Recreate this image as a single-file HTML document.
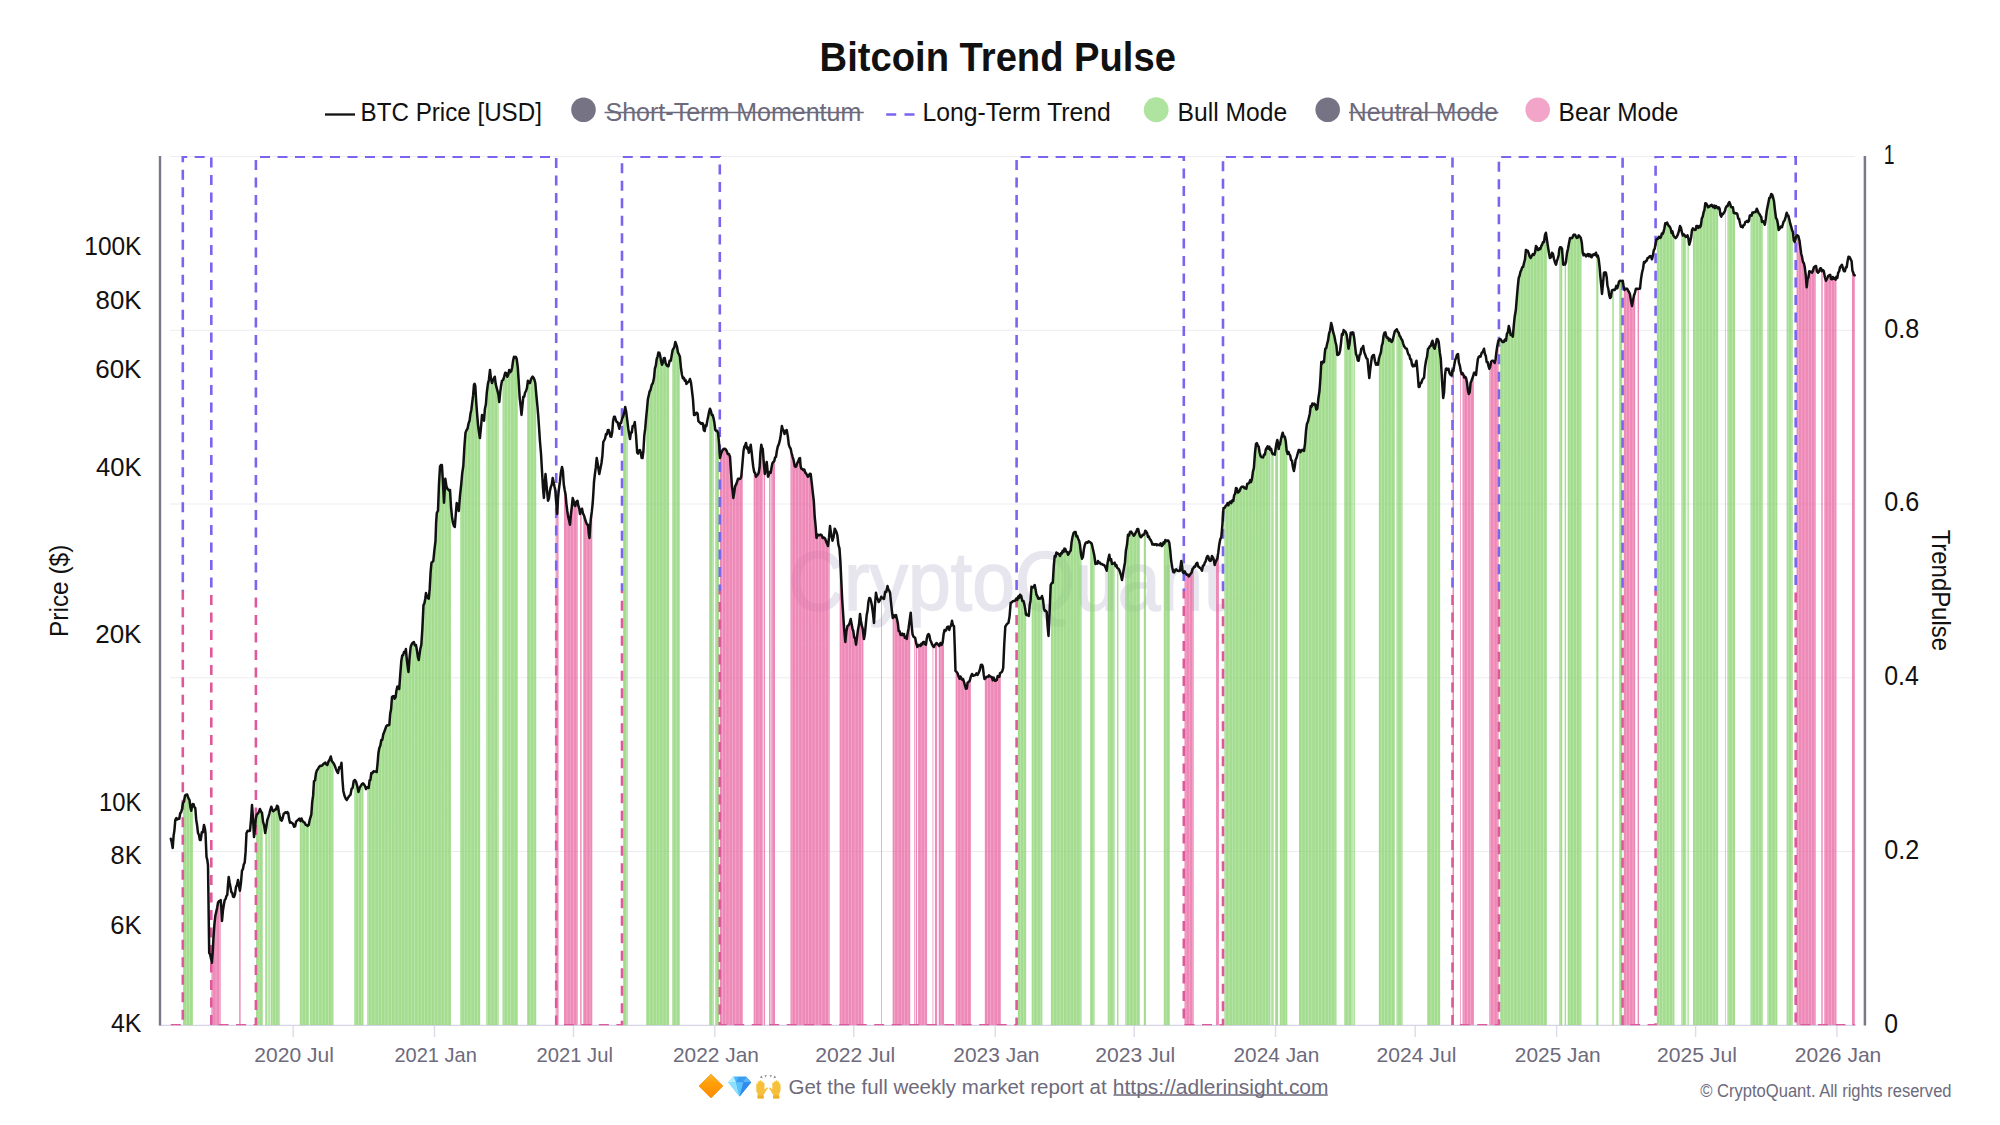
<!DOCTYPE html>
<html lang="en"><head><meta charset="utf-8"><title>Bitcoin Trend Pulse</title>
<style>html,body{margin:0;padding:0;background:#fff}body{width:2000px;height:1125px;overflow:hidden}svg{display:block}</style>
</head><body>
<svg width="2000" height="1125" viewBox="0 0 2000 1125" font-family='"Liberation Sans", sans-serif'><defs><linearGradient id="tg" gradientUnits="userSpaceOnUse" x1="0" y1="156.6" x2="0" y2="1025.2"><stop offset="0.5" stop-color="#7a64f0"/><stop offset="0.5" stop-color="#e0589c"/></linearGradient><clipPath id="plot"><rect x="161" y="156" width="1703" height="869.3"/></clipPath></defs><rect width="2000" height="1125" fill="#fff"/><line x1="170" x2="1855" y1="851.5" y2="851.5" stroke="#ededf1" stroke-width="1"/><line x1="170" x2="1855" y1="677.8" y2="677.8" stroke="#ededf1" stroke-width="1"/><line x1="170" x2="1855" y1="504.0" y2="504.0" stroke="#ededf1" stroke-width="1"/><line x1="170" x2="1855" y1="330.3" y2="330.3" stroke="#ededf1" stroke-width="1"/><line x1="170" x2="1855" y1="156.6" y2="156.6" stroke="#ededf1" stroke-width="1"/><text x="788.39" y="610" font-size="83" font-weight="normal" fill="#e7e6ee" textLength="436.34" lengthAdjust="spacingAndGlyphs" stroke="#e7e6ee" stroke-width="1.6">CryptoQuant</text><line x1="159" x2="1856" y1="1025.3" y2="1025.3" stroke="#d6d4e6" stroke-width="1.3"/><line x1="293.2" x2="293.2" y1="1026" y2="1037" stroke="#dddbe9" stroke-width="1.4"/><text x="254.39" y="1062.3" font-size="20.9" font-weight="normal" fill="#6d6a7b" textLength="79.56" lengthAdjust="spacingAndGlyphs" >2020 Jul</text><line x1="434.5" x2="434.5" y1="1026" y2="1037" stroke="#dddbe9" stroke-width="1.4"/><text x="394.44" y="1062.3" font-size="20.9" font-weight="normal" fill="#6d6a7b" textLength="82.43" lengthAdjust="spacingAndGlyphs" >2021 Jan</text><line x1="573.5" x2="573.5" y1="1026" y2="1037" stroke="#dddbe9" stroke-width="1.4"/><text x="536.53" y="1062.3" font-size="20.9" font-weight="normal" fill="#6d6a7b" textLength="76.36" lengthAdjust="spacingAndGlyphs" >2021 Jul</text><line x1="714.8" x2="714.8" y1="1026" y2="1037" stroke="#dddbe9" stroke-width="1.4"/><text x="673.00" y="1062.3" font-size="20.9" font-weight="normal" fill="#6d6a7b" textLength="85.92" lengthAdjust="spacingAndGlyphs" >2022 Jan</text><line x1="853.8" x2="853.8" y1="1026" y2="1037" stroke="#dddbe9" stroke-width="1.4"/><text x="815.19" y="1062.3" font-size="20.9" font-weight="normal" fill="#6d6a7b" textLength="80.07" lengthAdjust="spacingAndGlyphs" >2022 Jul</text><line x1="995.2" x2="995.2" y1="1026" y2="1037" stroke="#dddbe9" stroke-width="1.4"/><text x="953.30" y="1062.3" font-size="20.9" font-weight="normal" fill="#6d6a7b" textLength="86.23" lengthAdjust="spacingAndGlyphs" >2023 Jan</text><line x1="1134.2" x2="1134.2" y1="1026" y2="1037" stroke="#dddbe9" stroke-width="1.4"/><text x="1095.29" y="1062.3" font-size="20.9" font-weight="normal" fill="#6d6a7b" textLength="79.87" lengthAdjust="spacingAndGlyphs" >2023 Jul</text><line x1="1275.5" x2="1275.5" y1="1026" y2="1037" stroke="#dddbe9" stroke-width="1.4"/><text x="1233.50" y="1062.3" font-size="20.9" font-weight="normal" fill="#6d6a7b" textLength="85.82" lengthAdjust="spacingAndGlyphs" >2024 Jan</text><line x1="1415.2" x2="1415.2" y1="1026" y2="1037" stroke="#dddbe9" stroke-width="1.4"/><text x="1376.49" y="1062.3" font-size="20.9" font-weight="normal" fill="#6d6a7b" textLength="79.87" lengthAdjust="spacingAndGlyphs" >2024 Jul</text><line x1="1556.6" x2="1556.6" y1="1026" y2="1037" stroke="#dddbe9" stroke-width="1.4"/><text x="1514.80" y="1062.3" font-size="20.9" font-weight="normal" fill="#6d6a7b" textLength="85.92" lengthAdjust="spacingAndGlyphs" >2025 Jan</text><line x1="1695.6" x2="1695.6" y1="1026" y2="1037" stroke="#dddbe9" stroke-width="1.4"/><text x="1656.99" y="1062.3" font-size="20.9" font-weight="normal" fill="#6d6a7b" textLength="79.87" lengthAdjust="spacingAndGlyphs" >2025 Jul</text><line x1="1836.9" x2="1836.9" y1="1026" y2="1037" stroke="#dddbe9" stroke-width="1.4"/><text x="1794.79" y="1062.3" font-size="20.9" font-weight="normal" fill="#6d6a7b" textLength="86.54" lengthAdjust="spacingAndGlyphs" >2026 Jan</text><g clip-path="url(#plot)"><path d="M183.08 1025.2V802.2h0.585V1025.2zM183.85 1025.2V800.6h0.585V1025.2zM184.62 1025.2V796.2h0.585V1025.2zM185.39 1025.2V795.0h0.585V1025.2zM186.16 1025.2V794.7h0.585V1025.2zM186.92 1025.2V794.8h0.585V1025.2zM187.69 1025.2V796.9h0.585V1025.2zM188.46 1025.2V798.7h0.585V1025.2zM189.23 1025.2V800.2h0.585V1025.2zM190.00 1025.2V806.2h0.585V1025.2zM190.76 1025.2V809.7h0.585V1025.2zM191.53 1025.2V806.9h0.585V1025.2zM192.30 1025.2V804.2h0.585V1025.2zM256.04 1025.2V816.4h0.585V1025.2zM256.81 1025.2V814.3h0.585V1025.2zM257.58 1025.2V813.4h0.585V1025.2zM258.35 1025.2V812.4h0.585V1025.2zM259.12 1025.2V810.4h0.585V1025.2zM259.88 1025.2V809.6h0.585V1025.2zM260.65 1025.2V811.3h0.585V1025.2zM261.42 1025.2V812.5h0.585V1025.2zM262.19 1025.2V817.1h0.585V1025.2zM265.26 1025.2V831.2h0.585V1025.2zM266.03 1025.2V827.1h0.585V1025.2zM266.80 1025.2V821.5h0.585V1025.2zM268.33 1025.2V816.1h0.585V1025.2zM269.10 1025.2V813.4h0.585V1025.2zM270.64 1025.2V807.8h0.585V1025.2zM271.40 1025.2V807.9h0.585V1025.2zM272.17 1025.2V810.0h0.585V1025.2zM272.94 1025.2V811.2h0.585V1025.2zM273.71 1025.2V810.7h0.585V1025.2zM274.48 1025.2V809.8h0.585V1025.2zM275.24 1025.2V809.5h0.585V1025.2zM276.01 1025.2V808.3h0.585V1025.2zM276.78 1025.2V805.9h0.585V1025.2zM277.55 1025.2V806.6h0.585V1025.2zM278.32 1025.2V810.5h0.585V1025.2zM279.08 1025.2V814.5h0.585V1025.2zM299.82 1025.2V820.5h0.585V1025.2zM300.59 1025.2V819.9h0.585V1025.2zM301.36 1025.2V818.9h0.585V1025.2zM302.12 1025.2V820.6h0.585V1025.2zM302.89 1025.2V821.6h0.585V1025.2zM303.66 1025.2V822.3h0.585V1025.2zM304.43 1025.2V822.7h0.585V1025.2zM305.20 1025.2V824.4h0.585V1025.2zM305.96 1025.2V825.0h0.585V1025.2zM306.73 1025.2V825.4h0.585V1025.2zM307.50 1025.2V825.8h0.585V1025.2zM308.27 1025.2V825.1h0.585V1025.2zM309.80 1025.2V818.7h0.585V1025.2zM310.57 1025.2V816.2h0.585V1025.2zM311.34 1025.2V810.1h0.585V1025.2zM312.11 1025.2V800.8h0.585V1025.2zM312.88 1025.2V794.6h0.585V1025.2zM313.64 1025.2V782.0h0.585V1025.2zM314.41 1025.2V780.7h0.585V1025.2zM315.18 1025.2V777.0h0.585V1025.2zM315.95 1025.2V772.4h0.585V1025.2zM316.72 1025.2V770.2h0.585V1025.2zM317.48 1025.2V769.3h0.585V1025.2zM318.25 1025.2V767.9h0.585V1025.2zM319.02 1025.2V766.6h0.585V1025.2zM319.79 1025.2V765.9h0.585V1025.2zM320.56 1025.2V765.9h0.585V1025.2zM321.32 1025.2V765.7h0.585V1025.2zM322.09 1025.2V765.2h0.585V1025.2zM322.86 1025.2V764.2h0.585V1025.2zM323.63 1025.2V763.6h0.585V1025.2zM324.40 1025.2V763.1h0.585V1025.2zM325.16 1025.2V762.9h0.585V1025.2zM325.93 1025.2V764.3h0.585V1025.2zM326.70 1025.2V764.8h0.585V1025.2zM327.47 1025.2V763.6h0.585V1025.2zM328.24 1025.2V761.4h0.585V1025.2zM329.00 1025.2V760.2h0.585V1025.2zM329.77 1025.2V758.5h0.585V1025.2zM330.54 1025.2V756.6h0.585V1025.2zM331.31 1025.2V760.0h0.585V1025.2zM332.08 1025.2V761.8h0.585V1025.2zM332.84 1025.2V762.7h0.585V1025.2zM354.35 1025.2V780.2h0.585V1025.2zM355.12 1025.2V780.8h0.585V1025.2zM355.88 1025.2V782.2h0.585V1025.2zM356.65 1025.2V785.1h0.585V1025.2zM357.42 1025.2V788.4h0.585V1025.2zM358.19 1025.2V791.9h0.585V1025.2zM358.96 1025.2V789.2h0.585V1025.2zM359.72 1025.2V787.1h0.585V1025.2zM360.49 1025.2V786.0h0.585V1025.2zM361.26 1025.2V784.7h0.585V1025.2zM362.03 1025.2V783.8h0.585V1025.2zM362.80 1025.2V783.4h0.585V1025.2zM367.40 1025.2V787.7h0.585V1025.2zM368.17 1025.2V788.0h0.585V1025.2zM368.94 1025.2V783.2h0.585V1025.2zM369.71 1025.2V780.2h0.585V1025.2zM370.48 1025.2V777.4h0.585V1025.2zM371.24 1025.2V773.1h0.585V1025.2zM372.01 1025.2V773.2h0.585V1025.2zM372.78 1025.2V772.0h0.585V1025.2zM373.55 1025.2V771.3h0.585V1025.2zM374.32 1025.2V771.5h0.585V1025.2zM375.08 1025.2V771.6h0.585V1025.2zM375.85 1025.2V771.8h0.585V1025.2zM376.62 1025.2V769.8h0.585V1025.2zM377.39 1025.2V761.7h0.585V1025.2zM378.16 1025.2V753.1h0.585V1025.2zM378.92 1025.2V748.5h0.585V1025.2zM379.69 1025.2V746.4h0.585V1025.2zM380.46 1025.2V743.1h0.585V1025.2zM381.23 1025.2V740.0h0.585V1025.2zM382.00 1025.2V739.9h0.585V1025.2zM382.76 1025.2V735.7h0.585V1025.2zM383.53 1025.2V732.9h0.585V1025.2zM384.30 1025.2V730.9h0.585V1025.2zM385.07 1025.2V728.8h0.585V1025.2zM385.84 1025.2V726.7h0.585V1025.2zM386.60 1025.2V725.7h0.585V1025.2zM387.37 1025.2V725.3h0.585V1025.2zM388.14 1025.2V725.3h0.585V1025.2zM388.91 1025.2V725.0h0.585V1025.2zM389.68 1025.2V716.7h0.585V1025.2zM390.44 1025.2V710.9h0.585V1025.2zM391.21 1025.2V703.6h0.585V1025.2zM391.98 1025.2V696.8h0.585V1025.2zM392.75 1025.2V696.3h0.585V1025.2zM393.52 1025.2V696.3h0.585V1025.2zM394.28 1025.2V698.4h0.585V1025.2zM395.05 1025.2V697.6h0.585V1025.2zM395.82 1025.2V693.2h0.585V1025.2zM396.59 1025.2V688.7h0.585V1025.2zM397.36 1025.2V686.6h0.585V1025.2zM398.12 1025.2V686.9h0.585V1025.2zM398.89 1025.2V689.0h0.585V1025.2zM399.66 1025.2V679.2h0.585V1025.2zM400.43 1025.2V668.9h0.585V1025.2zM401.20 1025.2V659.9h0.585V1025.2zM401.96 1025.2V655.6h0.585V1025.2zM402.73 1025.2V655.2h0.585V1025.2zM403.50 1025.2V652.7h0.585V1025.2zM404.27 1025.2V652.3h0.585V1025.2zM405.04 1025.2V651.1h0.585V1025.2zM405.80 1025.2V651.3h0.585V1025.2zM406.57 1025.2V660.0h0.585V1025.2zM407.34 1025.2V665.8h0.585V1025.2zM408.11 1025.2V671.3h0.585V1025.2zM408.88 1025.2V663.2h0.585V1025.2zM409.64 1025.2V654.2h0.585V1025.2zM410.41 1025.2V646.7h0.585V1025.2zM411.18 1025.2V644.8h0.585V1025.2zM411.95 1025.2V643.5h0.585V1025.2zM412.72 1025.2V642.6h0.585V1025.2zM413.48 1025.2V642.2h0.585V1025.2zM414.25 1025.2V644.2h0.585V1025.2zM415.02 1025.2V645.2h0.585V1025.2zM415.79 1025.2V645.5h0.585V1025.2zM416.56 1025.2V649.9h0.585V1025.2zM417.32 1025.2V655.3h0.585V1025.2zM418.09 1025.2V658.8h0.585V1025.2zM418.86 1025.2V656.9h0.585V1025.2zM419.63 1025.2V651.7h0.585V1025.2zM420.40 1025.2V647.4h0.585V1025.2zM421.16 1025.2V642.6h0.585V1025.2zM421.93 1025.2V630.8h0.585V1025.2zM422.70 1025.2V615.7h0.585V1025.2zM423.47 1025.2V604.6h0.585V1025.2zM424.24 1025.2V602.6h0.585V1025.2zM425.00 1025.2V598.0h0.585V1025.2zM425.77 1025.2V593.2h0.585V1025.2zM426.54 1025.2V595.9h0.585V1025.2zM427.31 1025.2V597.7h0.585V1025.2zM428.08 1025.2V598.5h0.585V1025.2zM428.84 1025.2V595.1h0.585V1025.2zM429.61 1025.2V585.1h0.585V1025.2zM430.38 1025.2V571.4h0.585V1025.2zM431.15 1025.2V563.3h0.585V1025.2zM431.92 1025.2V562.1h0.585V1025.2zM432.68 1025.2V561.3h0.585V1025.2zM433.45 1025.2V556.6h0.585V1025.2zM434.22 1025.2V549.1h0.585V1025.2zM434.99 1025.2V542.8h0.585V1025.2zM435.76 1025.2V526.0h0.585V1025.2zM436.52 1025.2V513.0h0.585V1025.2zM437.29 1025.2V511.5h0.585V1025.2zM438.06 1025.2V501.2h0.585V1025.2zM438.83 1025.2V481.6h0.585V1025.2zM439.60 1025.2V468.6h0.585V1025.2zM440.36 1025.2V465.5h0.585V1025.2zM441.13 1025.2V465.0h0.585V1025.2zM441.90 1025.2V469.6h0.585V1025.2zM442.67 1025.2V481.7h0.585V1025.2zM443.44 1025.2V497.2h0.585V1025.2zM444.20 1025.2V494.6h0.585V1025.2zM444.97 1025.2V479.4h0.585V1025.2zM445.74 1025.2V483.7h0.585V1025.2zM446.51 1025.2V487.2h0.585V1025.2zM447.28 1025.2V489.0h0.585V1025.2zM448.04 1025.2V489.6h0.585V1025.2zM448.81 1025.2V490.5h0.585V1025.2zM449.58 1025.2V490.1h0.585V1025.2zM450.35 1025.2V500.7h0.585V1025.2zM460.33 1025.2V490.0h0.585V1025.2zM461.10 1025.2V482.6h0.585V1025.2zM461.87 1025.2V474.3h0.585V1025.2zM462.64 1025.2V468.6h0.585V1025.2zM463.40 1025.2V459.1h0.585V1025.2zM464.17 1025.2V445.9h0.585V1025.2zM464.94 1025.2V436.1h0.585V1025.2zM465.71 1025.2V431.5h0.585V1025.2zM466.48 1025.2V429.8h0.585V1025.2zM467.24 1025.2V428.5h0.585V1025.2zM468.01 1025.2V425.0h0.585V1025.2zM468.78 1025.2V422.0h0.585V1025.2zM469.55 1025.2V418.6h0.585V1025.2zM470.32 1025.2V413.4h0.585V1025.2zM471.08 1025.2V409.4h0.585V1025.2zM471.85 1025.2V403.2h0.585V1025.2zM472.62 1025.2V397.0h0.585V1025.2zM473.39 1025.2V388.5h0.585V1025.2zM474.16 1025.2V384.1h0.585V1025.2zM474.92 1025.2V385.7h0.585V1025.2zM475.69 1025.2V397.4h0.585V1025.2zM476.46 1025.2V408.8h0.585V1025.2zM477.23 1025.2V418.8h0.585V1025.2zM478.00 1025.2V427.1h0.585V1025.2zM478.76 1025.2V432.7h0.585V1025.2zM479.53 1025.2V437.5h0.585V1025.2zM486.44 1025.2V393.5h0.585V1025.2zM487.21 1025.2V386.9h0.585V1025.2zM487.98 1025.2V382.3h0.585V1025.2zM488.75 1025.2V378.8h0.585V1025.2zM489.52 1025.2V371.8h0.585V1025.2zM490.28 1025.2V375.3h0.585V1025.2zM491.05 1025.2V380.5h0.585V1025.2zM491.82 1025.2V382.7h0.585V1025.2zM492.59 1025.2V380.6h0.585V1025.2zM493.36 1025.2V378.8h0.585V1025.2zM494.12 1025.2V377.4h0.585V1025.2zM494.89 1025.2V379.9h0.585V1025.2zM495.66 1025.2V385.1h0.585V1025.2zM496.43 1025.2V388.0h0.585V1025.2zM497.20 1025.2V391.0h0.585V1025.2zM497.96 1025.2V394.1h0.585V1025.2zM502.57 1025.2V380.1h0.585V1025.2zM503.34 1025.2V378.3h0.585V1025.2zM504.11 1025.2V375.8h0.585V1025.2zM504.88 1025.2V372.8h0.585V1025.2zM505.64 1025.2V373.1h0.585V1025.2zM506.41 1025.2V374.7h0.585V1025.2zM507.18 1025.2V376.4h0.585V1025.2zM507.95 1025.2V374.9h0.585V1025.2zM508.72 1025.2V371.0h0.585V1025.2zM509.48 1025.2V371.3h0.585V1025.2zM510.25 1025.2V371.9h0.585V1025.2zM511.02 1025.2V370.9h0.585V1025.2zM511.79 1025.2V367.7h0.585V1025.2zM512.56 1025.2V362.4h0.585V1025.2zM513.32 1025.2V358.4h0.585V1025.2zM514.09 1025.2V357.1h0.585V1025.2zM514.86 1025.2V357.4h0.585V1025.2zM515.63 1025.2V357.1h0.585V1025.2zM516.40 1025.2V359.0h0.585V1025.2zM517.16 1025.2V365.0h0.585V1025.2zM527.15 1025.2V384.1h0.585V1025.2zM527.92 1025.2V381.4h0.585V1025.2zM528.68 1025.2V383.1h0.585V1025.2zM529.45 1025.2V383.0h0.585V1025.2zM530.22 1025.2V381.0h0.585V1025.2zM530.99 1025.2V378.8h0.585V1025.2zM531.76 1025.2V377.4h0.585V1025.2zM532.52 1025.2V376.9h0.585V1025.2zM533.29 1025.2V377.9h0.585V1025.2zM534.06 1025.2V379.5h0.585V1025.2zM534.83 1025.2V382.3h0.585V1025.2zM535.60 1025.2V389.8h0.585V1025.2zM555.56 1025.2V497.1h0.585V1025.2zM623.15 1025.2V415.4h0.585V1025.2zM623.92 1025.2V412.8h0.585V1025.2zM624.68 1025.2V408.3h0.585V1025.2zM625.45 1025.2V409.5h0.585V1025.2zM626.22 1025.2V414.1h0.585V1025.2zM626.99 1025.2V420.5h0.585V1025.2zM646.19 1025.2V414.3h0.585V1025.2zM646.96 1025.2V406.3h0.585V1025.2zM647.72 1025.2V398.5h0.585V1025.2zM648.49 1025.2V395.1h0.585V1025.2zM649.26 1025.2V391.8h0.585V1025.2zM650.03 1025.2V390.3h0.585V1025.2zM650.80 1025.2V387.5h0.585V1025.2zM651.56 1025.2V384.7h0.585V1025.2zM652.33 1025.2V383.5h0.585V1025.2zM653.10 1025.2V380.7h0.585V1025.2zM653.87 1025.2V376.3h0.585V1025.2zM654.64 1025.2V368.4h0.585V1025.2zM655.40 1025.2V366.0h0.585V1025.2zM656.17 1025.2V360.8h0.585V1025.2zM656.94 1025.2V357.5h0.585V1025.2zM657.71 1025.2V354.6h0.585V1025.2zM658.48 1025.2V352.6h0.585V1025.2zM659.24 1025.2V353.5h0.585V1025.2zM660.01 1025.2V356.4h0.585V1025.2zM660.78 1025.2V361.2h0.585V1025.2zM661.55 1025.2V364.1h0.585V1025.2zM662.32 1025.2V363.2h0.585V1025.2zM663.08 1025.2V360.2h0.585V1025.2zM663.85 1025.2V358.1h0.585V1025.2zM664.62 1025.2V359.2h0.585V1025.2zM665.39 1025.2V363.3h0.585V1025.2zM666.16 1025.2V364.8h0.585V1025.2zM666.92 1025.2V365.9h0.585V1025.2zM667.69 1025.2V366.2h0.585V1025.2zM668.46 1025.2V365.0h0.585V1025.2zM672.30 1025.2V350.2h0.585V1025.2zM673.07 1025.2V348.9h0.585V1025.2zM673.84 1025.2V347.3h0.585V1025.2zM674.60 1025.2V344.1h0.585V1025.2zM675.37 1025.2V342.9h0.585V1025.2zM676.14 1025.2V345.1h0.585V1025.2zM676.91 1025.2V347.8h0.585V1025.2zM677.68 1025.2V352.5h0.585V1025.2zM678.44 1025.2V354.0h0.585V1025.2zM679.21 1025.2V355.7h0.585V1025.2zM709.16 1025.2V410.6h0.585V1025.2zM709.93 1025.2V409.3h0.585V1025.2zM710.70 1025.2V411.4h0.585V1025.2zM711.47 1025.2V414.7h0.585V1025.2zM712.24 1025.2V415.0h0.585V1025.2zM713.00 1025.2V417.5h0.585V1025.2zM715.31 1025.2V430.3h0.585V1025.2zM716.08 1025.2V431.0h0.585V1025.2zM716.84 1025.2V430.8h0.585V1025.2zM717.61 1025.2V432.5h0.585V1025.2zM718.38 1025.2V439.2h0.585V1025.2zM1017.90 1025.2V596.5h0.585V1025.2zM1018.67 1025.2V597.7h0.585V1025.2zM1019.44 1025.2V595.7h0.585V1025.2zM1020.20 1025.2V595.2h0.585V1025.2zM1020.97 1025.2V596.2h0.585V1025.2zM1021.74 1025.2V599.6h0.585V1025.2zM1022.51 1025.2V600.9h0.585V1025.2zM1023.28 1025.2V601.3h0.585V1025.2zM1024.04 1025.2V604.1h0.585V1025.2zM1024.81 1025.2V608.4h0.585V1025.2zM1025.58 1025.2V613.8h0.585V1025.2zM1031.72 1025.2V587.1h0.585V1025.2zM1032.49 1025.2V587.4h0.585V1025.2zM1033.26 1025.2V586.8h0.585V1025.2zM1034.03 1025.2V585.6h0.585V1025.2zM1034.80 1025.2V587.0h0.585V1025.2zM1035.56 1025.2V591.1h0.585V1025.2zM1036.33 1025.2V594.9h0.585V1025.2zM1037.10 1025.2V596.3h0.585V1025.2zM1037.87 1025.2V598.6h0.585V1025.2zM1038.64 1025.2V598.1h0.585V1025.2zM1039.40 1025.2V598.5h0.585V1025.2zM1040.17 1025.2V598.5h0.585V1025.2zM1040.94 1025.2V597.7h0.585V1025.2zM1041.71 1025.2V596.0h0.585V1025.2zM1050.92 1025.2V584.0h0.585V1025.2zM1051.69 1025.2V582.9h0.585V1025.2zM1052.46 1025.2V582.7h0.585V1025.2zM1053.23 1025.2V569.9h0.585V1025.2zM1054.00 1025.2V560.2h0.585V1025.2zM1054.76 1025.2V556.3h0.585V1025.2zM1055.53 1025.2V555.5h0.585V1025.2zM1056.30 1025.2V552.6h0.585V1025.2zM1057.07 1025.2V553.1h0.585V1025.2zM1057.84 1025.2V553.8h0.585V1025.2zM1058.60 1025.2V554.3h0.585V1025.2zM1059.37 1025.2V555.4h0.585V1025.2zM1060.14 1025.2V554.7h0.585V1025.2zM1060.91 1025.2V553.4h0.585V1025.2zM1061.68 1025.2V553.0h0.585V1025.2zM1062.44 1025.2V550.8h0.585V1025.2zM1063.21 1025.2V551.9h0.585V1025.2zM1063.98 1025.2V549.3h0.585V1025.2zM1064.75 1025.2V548.9h0.585V1025.2zM1065.52 1025.2V550.5h0.585V1025.2zM1066.28 1025.2V551.7h0.585V1025.2zM1067.05 1025.2V552.7h0.585V1025.2zM1067.82 1025.2V554.6h0.585V1025.2zM1068.59 1025.2V553.6h0.585V1025.2zM1069.36 1025.2V551.9h0.585V1025.2zM1070.12 1025.2V551.0h0.585V1025.2zM1070.89 1025.2V546.0h0.585V1025.2zM1071.66 1025.2V540.0h0.585V1025.2zM1072.43 1025.2V536.2h0.585V1025.2zM1073.20 1025.2V533.4h0.585V1025.2zM1073.96 1025.2V532.4h0.585V1025.2zM1074.73 1025.2V532.0h0.585V1025.2zM1075.50 1025.2V533.2h0.585V1025.2zM1076.27 1025.2V536.3h0.585V1025.2zM1077.04 1025.2V536.1h0.585V1025.2zM1077.80 1025.2V538.6h0.585V1025.2zM1078.57 1025.2V540.2h0.585V1025.2zM1079.34 1025.2V543.2h0.585V1025.2zM1080.11 1025.2V548.7h0.585V1025.2zM1080.88 1025.2V555.0h0.585V1025.2zM1090.09 1025.2V542.5h0.585V1025.2zM1090.86 1025.2V543.1h0.585V1025.2zM1091.63 1025.2V544.8h0.585V1025.2zM1092.40 1025.2V547.9h0.585V1025.2zM1093.16 1025.2V551.4h0.585V1025.2zM1093.93 1025.2V555.1h0.585V1025.2zM1107.76 1025.2V560.4h0.585V1025.2zM1108.52 1025.2V556.9h0.585V1025.2zM1109.29 1025.2V556.4h0.585V1025.2zM1110.06 1025.2V560.0h0.585V1025.2zM1110.83 1025.2V559.1h0.585V1025.2zM1111.60 1025.2V563.4h0.585V1025.2zM1112.36 1025.2V563.7h0.585V1025.2zM1113.13 1025.2V563.6h0.585V1025.2zM1113.90 1025.2V563.2h0.585V1025.2zM1116.97 1025.2V567.9h0.585V1025.2zM1117.74 1025.2V568.3h0.585V1025.2zM1125.42 1025.2V553.0h0.585V1025.2zM1126.19 1025.2V547.5h0.585V1025.2zM1126.96 1025.2V542.0h0.585V1025.2zM1127.72 1025.2V534.7h0.585V1025.2zM1128.49 1025.2V535.5h0.585V1025.2zM1129.26 1025.2V533.7h0.585V1025.2zM1130.03 1025.2V531.9h0.585V1025.2zM1130.80 1025.2V531.7h0.585V1025.2zM1131.56 1025.2V532.8h0.585V1025.2zM1132.33 1025.2V534.0h0.585V1025.2zM1133.10 1025.2V535.1h0.585V1025.2zM1133.87 1025.2V535.3h0.585V1025.2zM1134.64 1025.2V534.2h0.585V1025.2zM1135.40 1025.2V532.5h0.585V1025.2zM1136.17 1025.2V531.2h0.585V1025.2zM1136.94 1025.2V529.2h0.585V1025.2zM1137.71 1025.2V529.0h0.585V1025.2zM1138.48 1025.2V531.6h0.585V1025.2zM1139.24 1025.2V534.5h0.585V1025.2zM1143.85 1025.2V534.3h0.585V1025.2zM1144.62 1025.2V532.2h0.585V1025.2zM1145.39 1025.2V531.1h0.585V1025.2zM1163.82 1025.2V543.0h0.585V1025.2zM1164.59 1025.2V541.7h0.585V1025.2zM1165.36 1025.2V540.4h0.585V1025.2zM1166.12 1025.2V541.2h0.585V1025.2zM1166.89 1025.2V540.6h0.585V1025.2zM1167.66 1025.2V540.5h0.585V1025.2zM1168.43 1025.2V541.4h0.585V1025.2zM1169.20 1025.2V544.2h0.585V1025.2zM1224.49 1025.2V507.6h0.585V1025.2zM1225.26 1025.2V506.2h0.585V1025.2zM1226.03 1025.2V505.4h0.585V1025.2zM1226.80 1025.2V504.1h0.585V1025.2zM1227.56 1025.2V503.8h0.585V1025.2zM1228.33 1025.2V504.8h0.585V1025.2zM1229.10 1025.2V502.6h0.585V1025.2zM1229.87 1025.2V501.7h0.585V1025.2zM1230.64 1025.2V502.5h0.585V1025.2zM1231.40 1025.2V502.0h0.585V1025.2zM1232.17 1025.2V500.5h0.585V1025.2zM1232.94 1025.2V501.0h0.585V1025.2zM1233.71 1025.2V496.4h0.585V1025.2zM1234.48 1025.2V494.3h0.585V1025.2zM1235.24 1025.2V491.0h0.585V1025.2zM1236.01 1025.2V488.2h0.585V1025.2zM1236.78 1025.2V489.3h0.585V1025.2zM1237.55 1025.2V492.6h0.585V1025.2zM1238.32 1025.2V492.1h0.585V1025.2zM1239.08 1025.2V491.1h0.585V1025.2zM1239.85 1025.2V489.5h0.585V1025.2zM1240.62 1025.2V487.7h0.585V1025.2zM1241.39 1025.2V486.8h0.585V1025.2zM1242.16 1025.2V486.7h0.585V1025.2zM1242.92 1025.2V486.8h0.585V1025.2zM1243.69 1025.2V487.5h0.585V1025.2zM1244.46 1025.2V488.1h0.585V1025.2zM1245.23 1025.2V488.1h0.585V1025.2zM1246.00 1025.2V488.7h0.585V1025.2zM1246.76 1025.2V485.0h0.585V1025.2zM1247.53 1025.2V483.7h0.585V1025.2zM1248.30 1025.2V483.3h0.585V1025.2zM1249.07 1025.2V482.5h0.585V1025.2zM1249.84 1025.2V480.4h0.585V1025.2zM1250.60 1025.2V481.6h0.585V1025.2zM1251.37 1025.2V479.9h0.585V1025.2zM1252.14 1025.2V475.4h0.585V1025.2zM1252.91 1025.2V470.5h0.585V1025.2zM1253.68 1025.2V467.0h0.585V1025.2zM1254.44 1025.2V455.8h0.585V1025.2zM1255.21 1025.2V448.1h0.585V1025.2zM1255.98 1025.2V443.7h0.585V1025.2zM1256.75 1025.2V443.5h0.585V1025.2zM1257.52 1025.2V445.4h0.585V1025.2zM1258.28 1025.2V446.5h0.585V1025.2zM1259.05 1025.2V450.8h0.585V1025.2zM1259.82 1025.2V454.3h0.585V1025.2zM1260.59 1025.2V456.3h0.585V1025.2zM1261.36 1025.2V457.1h0.585V1025.2zM1262.12 1025.2V457.2h0.585V1025.2zM1262.89 1025.2V457.2h0.585V1025.2zM1263.66 1025.2V454.8h0.585V1025.2zM1264.43 1025.2V454.5h0.585V1025.2zM1265.20 1025.2V451.2h0.585V1025.2zM1265.96 1025.2V448.7h0.585V1025.2zM1266.73 1025.2V447.4h0.585V1025.2zM1267.50 1025.2V447.0h0.585V1025.2zM1268.27 1025.2V448.5h0.585V1025.2zM1269.04 1025.2V446.8h0.585V1025.2zM1269.80 1025.2V449.6h0.585V1025.2zM1271.34 1025.2V451.3h0.585V1025.2zM1272.11 1025.2V453.5h0.585V1025.2zM1272.88 1025.2V454.0h0.585V1025.2zM1275.18 1025.2V449.7h0.585V1025.2zM1275.95 1025.2V445.0h0.585V1025.2zM1276.72 1025.2V441.3h0.585V1025.2zM1277.48 1025.2V441.9h0.585V1025.2zM1279.79 1025.2V444.2h0.585V1025.2zM1280.56 1025.2V439.8h0.585V1025.2zM1281.32 1025.2V436.6h0.585V1025.2zM1282.09 1025.2V433.8h0.585V1025.2zM1282.86 1025.2V434.4h0.585V1025.2zM1283.63 1025.2V436.6h0.585V1025.2zM1284.40 1025.2V436.7h0.585V1025.2zM1285.16 1025.2V440.1h0.585V1025.2zM1285.93 1025.2V446.3h0.585V1025.2zM1286.70 1025.2V452.0h0.585V1025.2zM1298.99 1025.2V449.9h0.585V1025.2zM1299.76 1025.2V451.2h0.585V1025.2zM1300.52 1025.2V451.7h0.585V1025.2zM1301.29 1025.2V450.7h0.585V1025.2zM1302.06 1025.2V450.0h0.585V1025.2zM1302.83 1025.2V450.5h0.585V1025.2zM1303.60 1025.2V450.9h0.585V1025.2zM1304.36 1025.2V446.2h0.585V1025.2zM1305.13 1025.2V438.3h0.585V1025.2zM1305.90 1025.2V429.6h0.585V1025.2zM1306.67 1025.2V423.9h0.585V1025.2zM1307.44 1025.2V422.1h0.585V1025.2zM1308.20 1025.2V419.2h0.585V1025.2zM1308.97 1025.2V415.9h0.585V1025.2zM1309.74 1025.2V411.4h0.585V1025.2zM1310.51 1025.2V406.1h0.585V1025.2zM1311.28 1025.2V406.6h0.585V1025.2zM1312.04 1025.2V403.7h0.585V1025.2zM1312.81 1025.2V404.4h0.585V1025.2zM1313.58 1025.2V404.1h0.585V1025.2zM1314.35 1025.2V404.1h0.585V1025.2zM1315.12 1025.2V405.3h0.585V1025.2zM1315.88 1025.2V408.9h0.585V1025.2zM1316.65 1025.2V409.0h0.585V1025.2zM1317.42 1025.2V404.8h0.585V1025.2zM1318.19 1025.2V397.8h0.585V1025.2zM1318.96 1025.2V392.7h0.585V1025.2zM1319.72 1025.2V383.9h0.585V1025.2zM1320.49 1025.2V371.5h0.585V1025.2zM1321.26 1025.2V362.4h0.585V1025.2zM1322.03 1025.2V363.2h0.585V1025.2zM1322.80 1025.2V361.4h0.585V1025.2zM1323.56 1025.2V361.9h0.585V1025.2zM1324.33 1025.2V354.4h0.585V1025.2zM1325.10 1025.2V348.7h0.585V1025.2zM1325.87 1025.2V348.3h0.585V1025.2zM1326.64 1025.2V344.8h0.585V1025.2zM1327.40 1025.2V341.8h0.585V1025.2zM1328.17 1025.2V337.5h0.585V1025.2zM1328.94 1025.2V332.8h0.585V1025.2zM1329.71 1025.2V330.7h0.585V1025.2zM1330.48 1025.2V326.0h0.585V1025.2zM1331.24 1025.2V324.2h0.585V1025.2zM1332.01 1025.2V327.2h0.585V1025.2zM1332.78 1025.2V331.4h0.585V1025.2zM1333.55 1025.2V334.4h0.585V1025.2zM1334.32 1025.2V337.3h0.585V1025.2zM1335.08 1025.2V341.3h0.585V1025.2zM1335.85 1025.2V344.6h0.585V1025.2zM1344.30 1025.2V331.1h0.585V1025.2zM1345.07 1025.2V331.7h0.585V1025.2zM1345.84 1025.2V333.4h0.585V1025.2zM1346.60 1025.2V336.5h0.585V1025.2zM1347.37 1025.2V342.2h0.585V1025.2zM1348.14 1025.2V348.2h0.585V1025.2zM1348.91 1025.2V345.4h0.585V1025.2zM1349.68 1025.2V339.9h0.585V1025.2zM1350.44 1025.2V332.8h0.585V1025.2zM1351.21 1025.2V334.2h0.585V1025.2zM1351.98 1025.2V332.7h0.585V1025.2zM1353.52 1025.2V335.7h0.585V1025.2zM1354.28 1025.2V341.5h0.585V1025.2zM1378.86 1025.2V357.8h0.585V1025.2zM1379.63 1025.2V355.3h0.585V1025.2zM1380.40 1025.2V353.0h0.585V1025.2zM1381.16 1025.2V348.2h0.585V1025.2zM1381.93 1025.2V344.4h0.585V1025.2zM1382.70 1025.2V340.6h0.585V1025.2zM1383.47 1025.2V335.1h0.585V1025.2zM1384.24 1025.2V332.7h0.585V1025.2zM1385.00 1025.2V332.4h0.585V1025.2zM1385.77 1025.2V335.4h0.585V1025.2zM1386.54 1025.2V337.4h0.585V1025.2zM1387.31 1025.2V337.9h0.585V1025.2zM1388.08 1025.2V338.5h0.585V1025.2zM1388.84 1025.2V340.2h0.585V1025.2zM1389.61 1025.2V339.0h0.585V1025.2zM1390.38 1025.2V340.8h0.585V1025.2zM1391.15 1025.2V341.8h0.585V1025.2zM1391.92 1025.2V341.1h0.585V1025.2zM1392.68 1025.2V338.7h0.585V1025.2zM1393.45 1025.2V335.6h0.585V1025.2zM1394.22 1025.2V332.6h0.585V1025.2zM1396.52 1025.2V329.3h0.585V1025.2zM1397.29 1025.2V331.2h0.585V1025.2zM1398.06 1025.2V332.3h0.585V1025.2zM1398.83 1025.2V334.2h0.585V1025.2zM1399.60 1025.2V336.1h0.585V1025.2zM1400.36 1025.2V337.3h0.585V1025.2zM1401.13 1025.2V339.1h0.585V1025.2zM1401.90 1025.2V340.1h0.585V1025.2zM1427.24 1025.2V352.5h0.585V1025.2zM1428.01 1025.2V348.5h0.585V1025.2zM1428.78 1025.2V347.7h0.585V1025.2zM1429.55 1025.2V346.2h0.585V1025.2zM1430.32 1025.2V346.0h0.585V1025.2zM1431.08 1025.2V343.7h0.585V1025.2zM1431.85 1025.2V341.6h0.585V1025.2zM1432.62 1025.2V343.1h0.585V1025.2zM1433.39 1025.2V347.2h0.585V1025.2zM1434.16 1025.2V348.3h0.585V1025.2zM1434.92 1025.2V346.3h0.585V1025.2zM1435.69 1025.2V342.8h0.585V1025.2zM1436.46 1025.2V339.2h0.585V1025.2zM1437.23 1025.2V339.3h0.585V1025.2zM1438.00 1025.2V340.9h0.585V1025.2zM1438.76 1025.2V345.5h0.585V1025.2zM1439.53 1025.2V352.9h0.585V1025.2zM1500.20 1025.2V339.3h0.585V1025.2zM1500.97 1025.2V340.2h0.585V1025.2zM1501.74 1025.2V341.4h0.585V1025.2zM1502.51 1025.2V342.0h0.585V1025.2zM1503.28 1025.2V342.1h0.585V1025.2zM1504.04 1025.2V340.9h0.585V1025.2zM1504.81 1025.2V339.8h0.585V1025.2zM1505.58 1025.2V340.6h0.585V1025.2zM1506.35 1025.2V336.0h0.585V1025.2zM1507.12 1025.2V332.9h0.585V1025.2zM1507.88 1025.2V330.1h0.585V1025.2zM1508.65 1025.2V326.6h0.585V1025.2zM1509.42 1025.2V329.9h0.585V1025.2zM1510.19 1025.2V333.9h0.585V1025.2zM1510.96 1025.2V335.0h0.585V1025.2zM1511.72 1025.2V335.4h0.585V1025.2zM1512.49 1025.2V336.7h0.585V1025.2zM1513.26 1025.2V327.7h0.585V1025.2zM1514.03 1025.2V320.2h0.585V1025.2zM1514.80 1025.2V314.3h0.585V1025.2zM1515.56 1025.2V309.1h0.585V1025.2zM1516.33 1025.2V300.1h0.585V1025.2zM1517.10 1025.2V291.0h0.585V1025.2zM1517.87 1025.2V283.0h0.585V1025.2zM1518.64 1025.2V277.4h0.585V1025.2zM1519.40 1025.2V275.1h0.585V1025.2zM1520.17 1025.2V271.9h0.585V1025.2zM1520.94 1025.2V270.2h0.585V1025.2zM1521.71 1025.2V267.9h0.585V1025.2zM1522.48 1025.2V267.1h0.585V1025.2zM1523.24 1025.2V265.1h0.585V1025.2zM1524.01 1025.2V261.8h0.585V1025.2zM1524.78 1025.2V258.1h0.585V1025.2zM1525.55 1025.2V250.6h0.585V1025.2zM1526.32 1025.2V250.3h0.585V1025.2zM1527.08 1025.2V250.5h0.585V1025.2zM1527.85 1025.2V251.8h0.585V1025.2zM1528.62 1025.2V254.1h0.585V1025.2zM1529.39 1025.2V256.5h0.585V1025.2zM1530.16 1025.2V257.6h0.585V1025.2zM1530.92 1025.2V256.9h0.585V1025.2zM1531.69 1025.2V255.4h0.585V1025.2zM1532.46 1025.2V254.1h0.585V1025.2zM1533.23 1025.2V254.6h0.585V1025.2zM1534.00 1025.2V254.1h0.585V1025.2zM1534.76 1025.2V251.9h0.585V1025.2zM1535.53 1025.2V247.1h0.585V1025.2zM1536.30 1025.2V246.7h0.585V1025.2zM1537.07 1025.2V248.6h0.585V1025.2zM1537.84 1025.2V250.0h0.585V1025.2zM1538.60 1025.2V249.6h0.585V1025.2zM1539.37 1025.2V248.3h0.585V1025.2zM1540.14 1025.2V249.0h0.585V1025.2zM1540.91 1025.2V246.3h0.585V1025.2zM1541.68 1025.2V244.9h0.585V1025.2zM1542.44 1025.2V243.0h0.585V1025.2zM1543.21 1025.2V241.9h0.585V1025.2zM1543.98 1025.2V240.0h0.585V1025.2zM1544.75 1025.2V234.7h0.585V1025.2zM1545.52 1025.2V232.9h0.585V1025.2zM1546.28 1025.2V237.5h0.585V1025.2zM1559.34 1025.2V248.5h0.585V1025.2zM1560.11 1025.2V247.2h0.585V1025.2zM1560.88 1025.2V247.4h0.585V1025.2zM1561.64 1025.2V248.6h0.585V1025.2zM1564.72 1025.2V264.6h0.585V1025.2zM1565.48 1025.2V262.4h0.585V1025.2zM1567.79 1025.2V248.3h0.585V1025.2zM1568.56 1025.2V244.1h0.585V1025.2zM1569.32 1025.2V240.0h0.585V1025.2zM1570.09 1025.2V238.1h0.585V1025.2zM1570.86 1025.2V238.3h0.585V1025.2zM1571.63 1025.2V238.1h0.585V1025.2zM1572.40 1025.2V236.8h0.585V1025.2zM1573.16 1025.2V235.2h0.585V1025.2zM1573.93 1025.2V234.6h0.585V1025.2zM1574.70 1025.2V234.8h0.585V1025.2zM1575.47 1025.2V236.2h0.585V1025.2zM1576.24 1025.2V237.4h0.585V1025.2zM1577.00 1025.2V237.8h0.585V1025.2zM1577.77 1025.2V236.9h0.585V1025.2zM1578.54 1025.2V235.5h0.585V1025.2zM1579.31 1025.2V236.4h0.585V1025.2zM1580.08 1025.2V237.4h0.585V1025.2zM1580.84 1025.2V239.7h0.585V1025.2zM1596.20 1025.2V254.8h0.585V1025.2zM1596.97 1025.2V256.1h0.585V1025.2zM1597.74 1025.2V256.6h0.585V1025.2zM1612.33 1025.2V290.1h0.585V1025.2zM1613.10 1025.2V289.9h0.585V1025.2zM1619.24 1025.2V281.1h0.585V1025.2zM1620.01 1025.2V280.8h0.585V1025.2zM1620.78 1025.2V281.0h0.585V1025.2zM1621.55 1025.2V280.9h0.585V1025.2zM1656.88 1025.2V239.1h0.585V1025.2zM1657.64 1025.2V238.4h0.585V1025.2zM1658.41 1025.2V236.9h0.585V1025.2zM1659.18 1025.2V237.4h0.585V1025.2zM1659.95 1025.2V237.8h0.585V1025.2zM1660.72 1025.2V236.8h0.585V1025.2zM1661.48 1025.2V233.7h0.585V1025.2zM1662.25 1025.2V233.9h0.585V1025.2zM1663.02 1025.2V232.4h0.585V1025.2zM1663.79 1025.2V229.7h0.585V1025.2zM1664.56 1025.2V225.9h0.585V1025.2zM1665.32 1025.2V223.5h0.585V1025.2zM1666.09 1025.2V223.5h0.585V1025.2zM1666.86 1025.2V222.7h0.585V1025.2zM1667.63 1025.2V224.5h0.585V1025.2zM1668.40 1025.2V225.7h0.585V1025.2zM1669.16 1025.2V226.5h0.585V1025.2zM1669.93 1025.2V227.7h0.585V1025.2zM1670.70 1025.2V230.1h0.585V1025.2zM1671.47 1025.2V232.6h0.585V1025.2zM1672.24 1025.2V231.8h0.585V1025.2zM1673.00 1025.2V235.3h0.585V1025.2zM1673.77 1025.2V236.5h0.585V1025.2zM1681.45 1025.2V231.5h0.585V1025.2zM1682.22 1025.2V234.2h0.585V1025.2zM1682.99 1025.2V235.1h0.585V1025.2zM1683.76 1025.2V234.6h0.585V1025.2zM1684.52 1025.2V235.3h0.585V1025.2zM1685.29 1025.2V236.7h0.585V1025.2zM1686.83 1025.2V235.9h0.585V1025.2zM1688.36 1025.2V240.1h0.585V1025.2zM1692.97 1025.2V228.9h0.585V1025.2zM1693.74 1025.2V229.6h0.585V1025.2zM1694.51 1025.2V230.0h0.585V1025.2zM1695.28 1025.2V229.7h0.585V1025.2zM1696.04 1025.2V226.3h0.585V1025.2zM1696.81 1025.2V226.0h0.585V1025.2zM1697.58 1025.2V227.2h0.585V1025.2zM1698.35 1025.2V227.0h0.585V1025.2zM1699.12 1025.2V226.5h0.585V1025.2zM1699.88 1025.2V226.9h0.585V1025.2zM1700.65 1025.2V225.1h0.585V1025.2zM1701.42 1025.2V219.0h0.585V1025.2zM1702.19 1025.2V217.1h0.585V1025.2zM1702.96 1025.2V213.9h0.585V1025.2zM1703.72 1025.2V211.2h0.585V1025.2zM1704.49 1025.2V207.4h0.585V1025.2zM1705.26 1025.2V203.3h0.585V1025.2zM1706.03 1025.2V203.6h0.585V1025.2zM1706.80 1025.2V204.9h0.585V1025.2zM1707.56 1025.2V206.9h0.585V1025.2zM1708.33 1025.2V207.0h0.585V1025.2zM1709.10 1025.2V206.3h0.585V1025.2zM1709.87 1025.2V205.8h0.585V1025.2zM1710.64 1025.2V205.7h0.585V1025.2zM1711.40 1025.2V204.8h0.585V1025.2zM1712.17 1025.2V205.7h0.585V1025.2zM1712.94 1025.2V207.2h0.585V1025.2zM1713.71 1025.2V206.0h0.585V1025.2zM1714.48 1025.2V207.2h0.585V1025.2zM1715.24 1025.2V207.1h0.585V1025.2zM1716.01 1025.2V206.4h0.585V1025.2zM1716.78 1025.2V207.4h0.585V1025.2zM1717.55 1025.2V208.3h0.585V1025.2zM1725.23 1025.2V208.7h0.585V1025.2zM1727.53 1025.2V205.5h0.585V1025.2zM1728.30 1025.2V203.3h0.585V1025.2zM1729.07 1025.2V202.1h0.585V1025.2zM1729.84 1025.2V204.0h0.585V1025.2zM1730.60 1025.2V206.5h0.585V1025.2zM1731.37 1025.2V207.3h0.585V1025.2zM1732.14 1025.2V207.3h0.585V1025.2zM1732.91 1025.2V209.3h0.585V1025.2zM1733.68 1025.2V213.0h0.585V1025.2zM1734.44 1025.2V212.7h0.585V1025.2zM1750.57 1025.2V215.4h0.585V1025.2zM1751.34 1025.2V215.5h0.585V1025.2zM1752.11 1025.2V212.7h0.585V1025.2zM1752.88 1025.2V212.7h0.585V1025.2zM1753.64 1025.2V212.3h0.585V1025.2zM1754.41 1025.2V212.0h0.585V1025.2zM1755.18 1025.2V212.1h0.585V1025.2zM1755.95 1025.2V210.3h0.585V1025.2zM1756.72 1025.2V209.2h0.585V1025.2zM1757.48 1025.2V211.0h0.585V1025.2zM1758.25 1025.2V212.8h0.585V1025.2zM1759.02 1025.2V213.8h0.585V1025.2zM1759.79 1025.2V215.2h0.585V1025.2zM1760.56 1025.2V216.5h0.585V1025.2zM1761.32 1025.2V219.7h0.585V1025.2zM1762.09 1025.2V221.6h0.585V1025.2zM1767.47 1025.2V205.6h0.585V1025.2zM1768.24 1025.2V202.0h0.585V1025.2zM1769.00 1025.2V198.0h0.585V1025.2zM1769.77 1025.2V197.7h0.585V1025.2zM1770.54 1025.2V195.4h0.585V1025.2zM1771.31 1025.2V194.2h0.585V1025.2zM1772.08 1025.2V195.3h0.585V1025.2zM1772.84 1025.2V197.7h0.585V1025.2zM1773.61 1025.2V200.7h0.585V1025.2zM1774.38 1025.2V207.8h0.585V1025.2zM1775.15 1025.2V213.9h0.585V1025.2zM1775.92 1025.2V218.3h0.585V1025.2zM1776.68 1025.2V219.7h0.585V1025.2zM1786.67 1025.2V213.5h0.585V1025.2zM1787.44 1025.2V215.4h0.585V1025.2zM1788.20 1025.2V216.0h0.585V1025.2zM1788.97 1025.2V219.2h0.585V1025.2zM1789.74 1025.2V222.7h0.585V1025.2zM1790.51 1025.2V225.4h0.585V1025.2zM1791.28 1025.2V228.2h0.585V1025.2zM1792.04 1025.2V230.7h0.585V1025.2z" fill="#84d069" fill-opacity="0.92"/><path d="M211.50 1025.2V962.2h0.585V1025.2zM212.27 1025.2V954.1h0.585V1025.2zM213.04 1025.2V940.3h0.585V1025.2zM213.80 1025.2V928.6h0.585V1025.2zM214.57 1025.2V920.0h0.585V1025.2zM215.34 1025.2V914.5h0.585V1025.2zM216.11 1025.2V911.1h0.585V1025.2zM216.88 1025.2V907.5h0.585V1025.2zM217.64 1025.2V903.1h0.585V1025.2zM218.41 1025.2V901.6h0.585V1025.2zM219.18 1025.2V901.2h0.585V1025.2zM219.95 1025.2V900.6h0.585V1025.2zM239.15 1025.2V888.2h0.585V1025.2zM239.92 1025.2V888.5h0.585V1025.2zM556.33 1025.2V506.8h0.585V1025.2zM557.10 1025.2V510.3h0.585V1025.2zM557.87 1025.2V496.7h0.585V1025.2zM564.01 1025.2V487.6h0.585V1025.2zM564.78 1025.2V492.0h0.585V1025.2zM565.55 1025.2V497.6h0.585V1025.2zM566.32 1025.2V505.3h0.585V1025.2zM567.08 1025.2V511.5h0.585V1025.2zM567.85 1025.2V516.5h0.585V1025.2zM568.62 1025.2V519.7h0.585V1025.2zM569.39 1025.2V523.2h0.585V1025.2zM570.16 1025.2V519.6h0.585V1025.2zM570.92 1025.2V511.8h0.585V1025.2zM571.69 1025.2V505.2h0.585V1025.2zM572.46 1025.2V498.2h0.585V1025.2zM573.23 1025.2V500.8h0.585V1025.2zM574.00 1025.2V504.1h0.585V1025.2zM574.76 1025.2V505.6h0.585V1025.2zM575.53 1025.2V503.9h0.585V1025.2zM576.30 1025.2V501.4h0.585V1025.2zM577.07 1025.2V500.8h0.585V1025.2zM580.14 1025.2V512.4h0.585V1025.2zM580.91 1025.2V510.0h0.585V1025.2zM583.21 1025.2V514.5h0.585V1025.2zM583.98 1025.2V516.4h0.585V1025.2zM584.75 1025.2V519.1h0.585V1025.2zM585.52 1025.2V521.4h0.585V1025.2zM586.28 1025.2V523.4h0.585V1025.2zM587.05 1025.2V524.5h0.585V1025.2zM587.82 1025.2V526.0h0.585V1025.2zM588.59 1025.2V534.5h0.585V1025.2zM589.36 1025.2V535.8h0.585V1025.2zM590.12 1025.2V524.4h0.585V1025.2zM590.89 1025.2V516.0h0.585V1025.2zM591.66 1025.2V509.8h0.585V1025.2zM719.92 1025.2V457.2h0.585V1025.2zM720.68 1025.2V454.0h0.585V1025.2zM721.45 1025.2V451.8h0.585V1025.2zM722.22 1025.2V450.3h0.585V1025.2zM722.99 1025.2V449.3h0.585V1025.2zM723.76 1025.2V448.7h0.585V1025.2zM724.52 1025.2V448.7h0.585V1025.2zM725.29 1025.2V449.3h0.585V1025.2zM726.06 1025.2V450.4h0.585V1025.2zM726.83 1025.2V452.2h0.585V1025.2zM727.60 1025.2V454.1h0.585V1025.2zM728.36 1025.2V453.9h0.585V1025.2zM729.13 1025.2V455.2h0.585V1025.2zM729.90 1025.2V459.6h0.585V1025.2zM730.67 1025.2V471.2h0.585V1025.2zM731.44 1025.2V482.9h0.585V1025.2zM732.20 1025.2V489.9h0.585V1025.2zM732.97 1025.2V497.6h0.585V1025.2zM733.74 1025.2V493.7h0.585V1025.2zM734.51 1025.2V488.5h0.585V1025.2zM735.28 1025.2V485.5h0.585V1025.2zM736.04 1025.2V483.7h0.585V1025.2zM736.81 1025.2V481.6h0.585V1025.2zM737.58 1025.2V479.4h0.585V1025.2zM738.35 1025.2V478.8h0.585V1025.2zM739.12 1025.2V479.0h0.585V1025.2zM739.88 1025.2V478.8h0.585V1025.2zM740.65 1025.2V477.4h0.585V1025.2zM741.42 1025.2V472.0h0.585V1025.2zM742.19 1025.2V463.3h0.585V1025.2zM753.71 1025.2V470.9h0.585V1025.2zM754.48 1025.2V472.6h0.585V1025.2zM755.24 1025.2V474.7h0.585V1025.2zM756.01 1025.2V476.3h0.585V1025.2zM756.78 1025.2V475.3h0.585V1025.2zM757.55 1025.2V474.7h0.585V1025.2zM758.32 1025.2V472.9h0.585V1025.2zM759.08 1025.2V468.5h0.585V1025.2zM759.85 1025.2V457.6h0.585V1025.2zM760.62 1025.2V448.3h0.585V1025.2zM761.39 1025.2V446.6h0.585V1025.2zM762.16 1025.2V448.5h0.585V1025.2zM763.69 1025.2V465.4h0.585V1025.2zM764.46 1025.2V473.5h0.585V1025.2zM769.07 1025.2V473.4h0.585V1025.2zM769.84 1025.2V472.3h0.585V1025.2zM771.37 1025.2V466.7h0.585V1025.2zM772.14 1025.2V463.3h0.585V1025.2zM772.91 1025.2V462.1h0.585V1025.2zM773.68 1025.2V461.5h0.585V1025.2zM774.44 1025.2V459.0h0.585V1025.2zM790.57 1025.2V449.6h0.585V1025.2zM791.34 1025.2V453.2h0.585V1025.2zM792.11 1025.2V456.2h0.585V1025.2zM792.88 1025.2V458.7h0.585V1025.2zM793.64 1025.2V461.9h0.585V1025.2zM794.41 1025.2V466.0h0.585V1025.2zM795.18 1025.2V466.8h0.585V1025.2zM795.95 1025.2V466.1h0.585V1025.2zM796.72 1025.2V464.0h0.585V1025.2zM797.48 1025.2V462.2h0.585V1025.2zM798.25 1025.2V460.4h0.585V1025.2zM799.02 1025.2V458.4h0.585V1025.2zM799.79 1025.2V459.0h0.585V1025.2zM800.56 1025.2V466.7h0.585V1025.2zM801.32 1025.2V468.8h0.585V1025.2zM802.09 1025.2V469.0h0.585V1025.2zM802.86 1025.2V469.9h0.585V1025.2zM803.63 1025.2V469.8h0.585V1025.2zM804.40 1025.2V470.8h0.585V1025.2zM805.16 1025.2V472.8h0.585V1025.2zM805.93 1025.2V473.6h0.585V1025.2zM806.70 1025.2V475.1h0.585V1025.2zM807.47 1025.2V476.3h0.585V1025.2zM808.24 1025.2V476.2h0.585V1025.2zM809.00 1025.2V474.9h0.585V1025.2zM809.77 1025.2V473.8h0.585V1025.2zM810.54 1025.2V475.2h0.585V1025.2zM811.31 1025.2V482.0h0.585V1025.2zM812.08 1025.2V488.9h0.585V1025.2zM812.84 1025.2V495.6h0.585V1025.2zM813.61 1025.2V503.6h0.585V1025.2zM814.38 1025.2V516.2h0.585V1025.2zM815.15 1025.2V524.1h0.585V1025.2zM815.92 1025.2V534.0h0.585V1025.2zM816.68 1025.2V536.6h0.585V1025.2zM817.45 1025.2V534.8h0.585V1025.2zM818.22 1025.2V535.0h0.585V1025.2zM818.99 1025.2V535.2h0.585V1025.2zM819.76 1025.2V535.1h0.585V1025.2zM820.52 1025.2V534.7h0.585V1025.2zM821.29 1025.2V535.2h0.585V1025.2zM822.06 1025.2V537.1h0.585V1025.2zM822.83 1025.2V537.8h0.585V1025.2zM823.60 1025.2V537.6h0.585V1025.2zM824.36 1025.2V538.0h0.585V1025.2zM825.13 1025.2V539.4h0.585V1025.2zM825.90 1025.2V541.7h0.585V1025.2zM826.67 1025.2V543.5h0.585V1025.2zM827.44 1025.2V545.3h0.585V1025.2zM828.20 1025.2V541.9h0.585V1025.2zM828.97 1025.2V534.6h0.585V1025.2zM839.72 1025.2V556.1h0.585V1025.2zM840.49 1025.2V569.8h0.585V1025.2zM841.26 1025.2V585.8h0.585V1025.2zM842.03 1025.2V601.0h0.585V1025.2zM842.80 1025.2V613.2h0.585V1025.2zM843.56 1025.2V624.1h0.585V1025.2zM844.33 1025.2V634.0h0.585V1025.2zM845.10 1025.2V641.1h0.585V1025.2zM845.87 1025.2V633.5h0.585V1025.2zM846.64 1025.2V628.7h0.585V1025.2zM847.40 1025.2V625.9h0.585V1025.2zM848.17 1025.2V625.3h0.585V1025.2zM848.94 1025.2V624.0h0.585V1025.2zM849.71 1025.2V621.7h0.585V1025.2zM850.48 1025.2V619.4h0.585V1025.2zM851.24 1025.2V623.5h0.585V1025.2zM852.01 1025.2V627.6h0.585V1025.2zM852.78 1025.2V630.3h0.585V1025.2zM853.55 1025.2V634.8h0.585V1025.2zM854.32 1025.2V637.7h0.585V1025.2zM855.08 1025.2V640.1h0.585V1025.2zM855.85 1025.2V643.6h0.585V1025.2zM856.62 1025.2V637.9h0.585V1025.2zM857.39 1025.2V631.9h0.585V1025.2zM858.16 1025.2V627.2h0.585V1025.2zM858.92 1025.2V622.3h0.585V1025.2zM859.69 1025.2V614.2h0.585V1025.2zM860.46 1025.2V619.6h0.585V1025.2zM861.23 1025.2V624.2h0.585V1025.2zM862.00 1025.2V627.3h0.585V1025.2zM862.76 1025.2V631.8h0.585V1025.2zM881.20 1025.2V597.0h0.585V1025.2zM892.72 1025.2V617.5h0.585V1025.2zM893.48 1025.2V615.5h0.585V1025.2zM894.25 1025.2V616.3h0.585V1025.2zM895.02 1025.2V616.3h0.585V1025.2zM895.79 1025.2V615.3h0.585V1025.2zM896.56 1025.2V618.6h0.585V1025.2zM897.32 1025.2V622.2h0.585V1025.2zM898.09 1025.2V628.2h0.585V1025.2zM898.86 1025.2V631.2h0.585V1025.2zM899.63 1025.2V632.7h0.585V1025.2zM900.40 1025.2V634.7h0.585V1025.2zM901.16 1025.2V634.8h0.585V1025.2zM901.93 1025.2V633.6h0.585V1025.2zM902.70 1025.2V635.0h0.585V1025.2zM903.47 1025.2V634.3h0.585V1025.2zM904.24 1025.2V636.2h0.585V1025.2zM905.00 1025.2V637.6h0.585V1025.2zM905.77 1025.2V637.8h0.585V1025.2zM906.54 1025.2V638.2h0.585V1025.2zM907.31 1025.2V633.2h0.585V1025.2zM908.08 1025.2V629.4h0.585V1025.2zM908.84 1025.2V624.0h0.585V1025.2zM909.61 1025.2V618.4h0.585V1025.2zM914.22 1025.2V637.4h0.585V1025.2zM915.76 1025.2V642.2h0.585V1025.2zM916.52 1025.2V645.3h0.585V1025.2zM918.06 1025.2V645.1h0.585V1025.2zM918.83 1025.2V645.0h0.585V1025.2zM919.60 1025.2V645.4h0.585V1025.2zM920.36 1025.2V645.6h0.585V1025.2zM921.13 1025.2V643.6h0.585V1025.2zM921.90 1025.2V644.3h0.585V1025.2zM922.67 1025.2V642.6h0.585V1025.2zM923.44 1025.2V642.1h0.585V1025.2zM924.20 1025.2V643.0h0.585V1025.2zM924.97 1025.2V644.3h0.585V1025.2zM925.74 1025.2V643.8h0.585V1025.2zM926.51 1025.2V638.4h0.585V1025.2zM932.65 1025.2V646.0h0.585V1025.2zM934.96 1025.2V644.6h0.585V1025.2zM935.72 1025.2V643.8h0.585V1025.2zM936.49 1025.2V643.3h0.585V1025.2zM938.80 1025.2V645.9h0.585V1025.2zM939.56 1025.2V644.3h0.585V1025.2zM940.33 1025.2V643.5h0.585V1025.2zM941.10 1025.2V644.8h0.585V1025.2zM941.87 1025.2V643.4h0.585V1025.2zM942.64 1025.2V640.1h0.585V1025.2zM943.40 1025.2V633.9h0.585V1025.2zM955.69 1025.2V671.4h0.585V1025.2zM956.46 1025.2V672.1h0.585V1025.2zM957.23 1025.2V673.3h0.585V1025.2zM958.00 1025.2V675.5h0.585V1025.2zM958.76 1025.2V677.6h0.585V1025.2zM959.53 1025.2V678.1h0.585V1025.2zM960.30 1025.2V676.7h0.585V1025.2zM961.07 1025.2V678.1h0.585V1025.2zM961.84 1025.2V679.5h0.585V1025.2zM962.60 1025.2V679.3h0.585V1025.2zM963.37 1025.2V680.9h0.585V1025.2zM964.14 1025.2V683.6h0.585V1025.2zM964.91 1025.2V686.3h0.585V1025.2zM965.68 1025.2V688.7h0.585V1025.2zM966.44 1025.2V688.6h0.585V1025.2zM967.21 1025.2V683.4h0.585V1025.2zM967.98 1025.2V682.1h0.585V1025.2zM968.75 1025.2V681.5h0.585V1025.2zM969.52 1025.2V680.4h0.585V1025.2zM970.28 1025.2V677.6h0.585V1025.2zM984.88 1025.2V678.4h0.585V1025.2zM985.64 1025.2V677.7h0.585V1025.2zM986.41 1025.2V676.8h0.585V1025.2zM987.18 1025.2V676.7h0.585V1025.2zM987.95 1025.2V676.4h0.585V1025.2zM988.72 1025.2V675.5h0.585V1025.2zM989.48 1025.2V676.1h0.585V1025.2zM990.25 1025.2V676.6h0.585V1025.2zM991.02 1025.2V676.8h0.585V1025.2zM991.79 1025.2V678.1h0.585V1025.2zM992.56 1025.2V679.8h0.585V1025.2zM993.32 1025.2V677.8h0.585V1025.2zM994.09 1025.2V679.7h0.585V1025.2zM994.86 1025.2V680.7h0.585V1025.2zM995.63 1025.2V680.6h0.585V1025.2zM996.40 1025.2V680.1h0.585V1025.2zM997.16 1025.2V677.1h0.585V1025.2zM997.93 1025.2V676.4h0.585V1025.2zM998.70 1025.2V676.7h0.585V1025.2zM999.47 1025.2V674.6h0.585V1025.2zM1000.24 1025.2V672.9h0.585V1025.2zM1184.56 1025.2V571.6h0.585V1025.2zM1185.32 1025.2V573.1h0.585V1025.2zM1186.09 1025.2V574.2h0.585V1025.2zM1186.86 1025.2V574.6h0.585V1025.2zM1187.63 1025.2V574.8h0.585V1025.2zM1188.40 1025.2V576.1h0.585V1025.2zM1189.16 1025.2V575.4h0.585V1025.2zM1189.93 1025.2V574.2h0.585V1025.2zM1190.70 1025.2V573.2h0.585V1025.2zM1191.47 1025.2V572.1h0.585V1025.2zM1192.24 1025.2V569.0h0.585V1025.2zM1193.00 1025.2V568.2h0.585V1025.2zM1216.04 1025.2V560.6h0.585V1025.2zM1216.81 1025.2V559.1h0.585V1025.2zM1217.58 1025.2V555.2h0.585V1025.2zM1218.35 1025.2V549.7h0.585V1025.2zM1452.59 1025.2V370.7h0.585V1025.2zM1453.36 1025.2V368.9h0.585V1025.2zM1460.27 1025.2V369.7h0.585V1025.2zM1462.57 1025.2V373.7h0.585V1025.2zM1463.34 1025.2V375.4h0.585V1025.2zM1464.11 1025.2V377.4h0.585V1025.2zM1464.88 1025.2V376.8h0.585V1025.2zM1465.64 1025.2V377.9h0.585V1025.2zM1466.41 1025.2V380.9h0.585V1025.2zM1467.18 1025.2V386.8h0.585V1025.2zM1467.95 1025.2V391.8h0.585V1025.2zM1468.72 1025.2V393.6h0.585V1025.2zM1469.48 1025.2V391.3h0.585V1025.2zM1470.25 1025.2V383.5h0.585V1025.2zM1471.02 1025.2V381.2h0.585V1025.2zM1471.79 1025.2V379.2h0.585V1025.2zM1472.56 1025.2V376.9h0.585V1025.2zM1473.32 1025.2V374.2h0.585V1025.2zM1489.45 1025.2V367.8h0.585V1025.2zM1490.22 1025.2V365.1h0.585V1025.2zM1490.99 1025.2V361.6h0.585V1025.2zM1491.76 1025.2V360.7h0.585V1025.2zM1492.52 1025.2V360.7h0.585V1025.2zM1493.29 1025.2V361.0h0.585V1025.2zM1494.06 1025.2V362.2h0.585V1025.2zM1494.83 1025.2V361.2h0.585V1025.2zM1495.60 1025.2V356.5h0.585V1025.2zM1496.36 1025.2V350.4h0.585V1025.2zM1497.13 1025.2V345.4h0.585V1025.2zM1497.90 1025.2V341.6h0.585V1025.2zM1623.85 1025.2V288.4h0.585V1025.2zM1624.62 1025.2V289.5h0.585V1025.2zM1625.39 1025.2V288.8h0.585V1025.2zM1626.16 1025.2V288.8h0.585V1025.2zM1626.92 1025.2V288.7h0.585V1025.2zM1627.69 1025.2V290.6h0.585V1025.2zM1628.46 1025.2V291.6h0.585V1025.2zM1629.23 1025.2V293.1h0.585V1025.2zM1630.00 1025.2V296.5h0.585V1025.2zM1630.76 1025.2V301.4h0.585V1025.2zM1631.53 1025.2V305.1h0.585V1025.2zM1632.30 1025.2V302.7h0.585V1025.2zM1633.07 1025.2V298.5h0.585V1025.2zM1633.84 1025.2V295.0h0.585V1025.2zM1634.60 1025.2V292.9h0.585V1025.2zM1637.68 1025.2V289.1h0.585V1025.2zM1638.44 1025.2V288.7h0.585V1025.2zM1796.65 1025.2V235.5h0.585V1025.2zM1797.42 1025.2V235.6h0.585V1025.2zM1798.19 1025.2V236.5h0.585V1025.2zM1798.96 1025.2V239.7h0.585V1025.2zM1799.72 1025.2V244.5h0.585V1025.2zM1800.49 1025.2V250.5h0.585V1025.2zM1801.26 1025.2V255.1h0.585V1025.2zM1802.03 1025.2V258.4h0.585V1025.2zM1802.80 1025.2V262.0h0.585V1025.2zM1803.56 1025.2V263.2h0.585V1025.2zM1804.33 1025.2V266.5h0.585V1025.2zM1805.10 1025.2V272.5h0.585V1025.2zM1805.87 1025.2V280.7h0.585V1025.2zM1806.64 1025.2V285.1h0.585V1025.2zM1807.40 1025.2V278.7h0.585V1025.2zM1808.17 1025.2V277.3h0.585V1025.2zM1808.94 1025.2V271.8h0.585V1025.2zM1809.71 1025.2V271.8h0.585V1025.2zM1810.48 1025.2V271.8h0.585V1025.2zM1811.24 1025.2V272.2h0.585V1025.2zM1812.01 1025.2V272.0h0.585V1025.2zM1812.78 1025.2V270.2h0.585V1025.2zM1813.55 1025.2V267.5h0.585V1025.2zM1814.32 1025.2V266.7h0.585V1025.2zM1815.08 1025.2V266.3h0.585V1025.2zM1821.23 1025.2V270.2h0.585V1025.2zM1822.00 1025.2V270.5h0.585V1025.2zM1824.30 1025.2V275.6h0.585V1025.2zM1825.07 1025.2V278.7h0.585V1025.2zM1825.84 1025.2V280.4h0.585V1025.2zM1826.60 1025.2V278.9h0.585V1025.2zM1827.37 1025.2V277.2h0.585V1025.2zM1828.14 1025.2V275.8h0.585V1025.2zM1828.91 1025.2V275.4h0.585V1025.2zM1829.68 1025.2V274.9h0.585V1025.2zM1830.44 1025.2V277.4h0.585V1025.2zM1831.21 1025.2V279.2h0.585V1025.2zM1831.98 1025.2V278.6h0.585V1025.2zM1832.75 1025.2V277.3h0.585V1025.2zM1833.52 1025.2V278.6h0.585V1025.2zM1834.28 1025.2V278.1h0.585V1025.2zM1835.05 1025.2V279.2h0.585V1025.2zM1835.82 1025.2V277.8h0.585V1025.2zM1851.95 1025.2V268.4h0.585V1025.2zM1852.72 1025.2V271.9h0.585V1025.2zM1853.48 1025.2V274.4h0.585V1025.2zM1854.25 1025.2V275.3h0.585V1025.2z" fill="#e862a0" fill-opacity="0.92"/><path d="M170.8 1025.2L182.8 1025.2L182.8 156.6L211.3 156.6L211.3 1025.2L255.9 1025.2L255.9 156.6L556.2 156.6L556.2 1025.2L622.0 1025.2L622.0 156.6L719.8 156.6L719.8 1025.2L1016.6 1025.2L1016.6 156.6L1183.8 156.6L1183.8 1025.2L1223.0 1025.2L1223.0 156.6L1452.5 156.6L1452.5 1025.2L1498.9 1025.2L1498.9 156.6L1622.6 156.6L1622.6 1025.2L1655.6 1025.2L1655.6 156.6L1795.7 156.6L1795.7 1025.2L1854.7 1025.2" fill="none" stroke="url(#tg)" stroke-width="2.6" stroke-dasharray="10 7.5"/><path d="M170.8 838.7L171.8 842.5L172.7 848.0L173.6 835.8L174.4 830.6L175.3 820.0L176.3 818.0L177.3 819.5L178.3 818.5L179.3 818.7L180.2 813.2L181.1 812.3L182.0 809.0L183.0 802.7L184.0 801.5L185.0 795.7L186.0 794.7L187.2 794.6L188.3 797.9L189.5 800.0L190.4 807.1L191.3 810.7L192.0 805.6L192.7 804.0L193.6 804.2L194.4 807.2L195.3 808.0L196.2 819.7L197.1 825.3L198.0 833.0L198.9 834.8L199.8 839.9L200.7 840.0L201.8 832.3L202.9 832.2L204.0 825.0L204.8 828.0L205.5 833.0L206.5 857.0L207.2 859.3L208.0 865.0L209.2 953.0L210.1 954.3L211.0 958.5L211.9 962.7L212.7 952.3L213.5 937.0L214.4 924.3L215.3 916.0L216.2 912.0L217.1 907.9L218.0 902.7L218.9 901.3L219.8 901.1L220.7 900.0L221.3 907.5L222.0 921.0L222.9 910.9L223.8 905.0L224.7 900.0L225.6 899.0L226.4 896.1L227.3 894.7L228.0 884.7L228.7 877.0L229.6 882.5L230.4 886.7L231.3 892.0L232.2 892.8L233.1 896.6L234.0 897.0L235.0 894.0L236.0 886.9L237.0 884.7L238.0 880.0L238.9 885.5L239.9 890.7L240.9 883.3L242.0 870.7L242.9 869.2L243.8 864.3L244.7 862.7L245.6 851.9L246.5 833.0L247.7 830.7L248.8 831.1L250.0 830.7L251.0 819.8L252.0 805.0L253.0 818.0L254.0 837.0L254.9 829.5L255.8 818.8L256.7 814.7L257.8 813.6L258.8 812.1L259.9 809.0L260.9 811.3L262.0 813.0L263.1 822.2L264.1 825.1L265.2 833.0L266.2 827.6L267.3 820.0L268.3 817.2L269.3 813.8L270.3 809.8L271.3 806.7L272.2 809.5L273.1 811.3L274.0 810.7L275.0 809.6L276.0 809.4L277.0 805.8L278.0 806.7L278.9 812.3L279.8 816.4L280.7 820.0L281.7 820.6L282.7 818.0L283.7 813.7L284.7 813.0L285.6 812.2L286.4 813.0L287.3 812.0L288.2 813.0L289.1 818.9L290.0 822.7L291.0 822.3L292.0 823.1L293.0 823.8L294.0 826.7L295.1 826.4L296.1 821.7L297.2 820.7L298.2 819.8L299.3 818.7L300.4 821.1L301.5 818.5L302.5 820.9L303.6 822.1L304.7 822.7L305.7 824.8L306.7 825.1L307.7 825.9L308.7 825.0L309.6 820.4L310.4 817.7L311.3 814.7L312.2 802.2L313.1 795.7L314.0 781.0L315.0 780.5L316.0 773.1L317.0 770.2L318.0 769.0L319.1 766.8L320.1 765.8L321.2 765.9L322.2 765.4L323.3 764.0L324.3 763.4L325.3 762.6L326.3 764.4L327.3 765.0L328.5 761.5L329.6 759.7L330.8 756.5L331.9 761.2L332.9 762.4L334.0 764.0L335.0 766.3L336.0 769.1L337.0 771.6L338.0 773.0L339.2 767.2L340.3 768.2L341.5 762.7L342.4 779.0L343.3 790.7L344.5 795.7L345.6 798.4L346.8 800.0L348.0 797.8L349.3 796.0L350.5 794.7L351.6 788.7L352.6 788.1L353.7 781.1L354.8 780.0L356.0 781.6L357.3 786.4L358.5 792.0L359.7 787.7L360.8 785.9L362.0 784.0L363.0 783.3L364.0 784.3L365.0 786.2L366.0 789.0L366.9 787.2L367.8 787.8L368.7 788.0L369.6 780.2L370.4 780.2L371.3 773.0L372.4 773.2L373.5 771.3L374.5 771.5L375.6 771.6L376.7 772.0L377.6 763.0L378.4 753.2L379.3 748.0L380.3 745.7L381.3 740.0L382.3 739.9L383.3 734.3L384.3 731.7L385.3 729.0L386.3 726.2L387.3 725.3L388.3 725.3L389.3 725.0L390.2 713.8L391.1 709.0L392.0 697.0L392.9 696.3L393.8 696.3L394.7 698.7L395.6 697.2L396.4 690.9L397.3 686.7L398.2 686.4L399.2 689.0L400.2 675.3L401.3 661.0L402.2 655.6L403.1 655.1L404.0 652.0L404.9 652.5L405.9 649.0L406.8 659.3L407.6 665.8L408.5 672.0L409.6 657.5L410.7 646.7L411.8 644.1L412.8 642.7L413.9 642.1L414.9 645.3L416.0 645.0L416.9 650.2L417.8 656.7L418.7 660.0L419.6 654.0L420.4 648.3L421.3 645.0L422.4 628.1L423.5 605.0L424.3 603.7L425.2 598.9L426.0 593.0L426.9 596.3L427.9 598.2L428.8 598.7L429.7 588.9L430.6 572.1L431.5 562.7L432.4 561.9L433.3 561.0L434.4 550.0L435.5 541.0L436.1 523.2L436.8 513.0L438.0 510.7L439.0 483.7L440.0 466.7L440.9 465.0L441.9 465.0L442.9 481.5L444.0 502.7L444.6 492.1L445.3 478.7L446.4 486.2L447.5 489.0L448.4 489.6L449.3 490.7L450.0 490.0L451.0 506.8L452.0 516.7L452.9 522.7L453.9 526.0L454.8 527.0L455.8 514.0L456.7 503.0L457.8 505.6L458.8 511.0L460.0 495.7L461.2 484.7L462.2 473.4L463.3 466.0L464.4 446.7L465.5 432.7L466.6 430.1L467.6 428.3L468.7 423.0L469.6 420.6L470.4 414.2L471.3 410.0L472.2 402.7L473.1 395.4L474.0 384.7L474.6 383.8L475.3 386.0L476.2 401.8L477.2 415.0L478.1 425.6L479.0 432.4L479.9 438.0L480.9 428.3L482.0 415.0L483.0 417.8L484.0 420.7L484.9 408.8L485.9 404.4L486.8 392.7L487.9 383.9L488.9 379.7L490.0 370.0L491.0 379.2L492.0 383.0L492.9 380.4L493.9 378.3L494.8 376.7L495.7 384.1L496.6 387.6L497.5 391.0L498.4 394.7L499.3 402.0L500.2 392.3L501.1 385.4L502.0 380.7L503.1 380.0L504.1 376.9L505.2 372.7L506.2 373.2L507.3 376.7L508.2 374.9L509.2 370.0L510.2 372.3L511.3 371.0L512.2 367.2L513.1 360.6L514.0 356.7L514.9 357.7L515.8 356.8L516.7 359.0L517.8 367.4L518.8 383.0L519.7 397.8L520.6 405.6L521.5 415.0L522.4 406.0L523.3 396.7L524.2 396.8L525.1 392.6L526.0 391.0L527.0 387.8L527.9 380.7L529.0 383.1L530.0 383.0L530.9 379.6L531.8 377.7L532.7 376.7L533.6 377.8L534.4 379.7L535.3 383.0L536.4 395.6L537.5 407.0L538.3 416.5L539.2 429.6L540.0 442.0L541.0 453.5L542.0 471.0L543.0 487.7L543.9 498.0L544.7 484.9L545.5 474.0L546.3 482.6L547.2 492.5L548.0 500.7L548.9 498.5L549.9 491.1L550.8 487.0L551.8 484.6L552.7 478.0L553.6 482.0L554.4 486.2L555.3 490.0L556.2 502.2L557.2 514.0L558.0 498.4L558.8 490.0L559.9 481.9L560.9 472.4L562.0 467.0L562.9 471.1L563.8 484.5L564.7 490.0L565.6 494.7L566.4 503.8L567.3 511.0L568.2 516.9L569.1 520.5L570.0 524.7L570.9 514.4L571.8 507.0L572.7 498.0L573.6 500.9L574.4 504.7L575.3 506.0L576.4 501.6L577.5 500.7L578.3 505.5L579.2 508.1L580.0 514.0L581.0 510.4L582.0 508.7L583.0 513.6L584.0 515.4L585.0 519.0L586.0 522.0L587.0 524.4L588.0 524.7L588.8 533.7L589.5 538.0L590.1 528.1L590.8 519.0L591.8 511.7L592.7 503.0L593.4 492.5L594.0 482.0L594.9 474.1L595.8 467.4L596.7 458.0L597.6 463.0L598.4 468.9L599.3 474.0L600.4 468.4L601.5 463.0L602.4 455.6L603.3 442.0L604.2 440.3L605.1 438.5L606.0 434.0L606.9 434.5L607.8 430.3L608.7 430.0L609.6 432.5L610.4 436.5L611.3 436.7L612.2 432.3L613.1 420.9L614.0 416.7L614.9 416.8L615.8 420.0L616.7 422.0L617.6 422.2L618.4 425.3L619.3 428.7L620.2 423.3L621.1 423.1L622.0 419.0L623.1 416.6L624.1 413.2L625.2 407.0L626.2 411.8L627.3 420.7L628.2 428.2L629.1 433.9L630.0 439.0L630.9 432.6L631.8 432.5L632.7 426.0L633.8 426.0L634.8 422.0L636.0 435.0L637.2 452.7L638.1 453.6L639.0 450.5L639.9 450.0L640.8 452.6L641.6 457.7L642.5 458.0L643.4 451.0L644.3 435.7L645.2 428.7L646.1 418.2L647.0 409.0L647.9 399.0L648.8 395.2L649.6 391.5L650.5 390.0L651.7 385.0L652.8 383.2L654.0 378.0L654.9 368.5L655.8 365.7L656.7 359.0L657.6 356.6L658.4 352.6L659.3 352.7L660.2 355.8L661.1 361.4L662.0 364.7L662.9 362.5L663.8 358.2L664.7 358.0L665.6 363.0L666.4 364.7L667.3 366.0L668.5 366.3L669.6 360.7L670.8 360.7L671.7 355.4L672.6 350.2L673.5 348.7L674.4 346.7L675.3 342.0L676.2 344.3L677.1 347.2L678.0 352.7L679.0 354.4L679.9 356.7L681.0 368.5L682.0 375.0L682.9 378.3L683.8 377.7L684.7 380.7L685.6 380.1L686.4 383.9L687.3 383.0L688.2 382.0L689.1 381.2L690.0 379.0L691.0 382.7L692.0 391.0L693.0 399.7L694.0 415.0L694.9 415.0L695.8 413.2L696.7 412.7L697.6 413.6L698.4 421.1L699.3 422.0L700.2 422.8L701.1 423.8L702.0 423.0L702.9 423.6L703.8 430.1L704.7 431.0L705.6 425.3L706.4 426.0L707.3 420.7L708.2 416.4L709.1 411.8L710.0 408.7L710.9 411.0L711.8 414.9L712.7 415.0L713.6 418.6L714.4 422.8L715.3 430.0L716.2 431.0L717.1 430.7L718.0 432.7L719.0 442.4L720.0 458.0L721.0 454.0L722.0 451.1L723.0 449.5L724.0 448.7L724.9 448.7L725.8 449.5L726.7 451.0L727.8 454.1L728.9 453.9L730.0 456.7L731.0 471.9L732.0 487.0L732.6 490.8L733.3 498.0L734.2 492.7L735.1 486.4L736.0 484.7L737.1 481.7L738.1 478.7L739.2 479.0L740.2 478.8L741.3 476.7L742.4 464.2L743.5 451.0L744.3 446.8L745.2 445.5L746.0 443.0L746.9 448.5L747.9 447.4L748.8 452.7L749.8 450.3L750.7 444.7L751.6 451.6L752.4 459.5L753.3 467.0L754.2 472.0L755.1 472.9L756.0 476.7L756.9 475.4L757.8 474.8L758.7 472.7L759.6 467.3L760.4 452.8L761.3 444.7L762.0 448.1L762.7 448.7L763.8 462.9L764.8 474.0L765.8 468.8L766.7 462.0L767.4 468.8L768.0 476.7L768.9 474.7L769.8 472.1L770.7 472.7L771.6 467.2L772.4 463.3L773.3 462.0L774.2 461.3L775.1 457.4L776.0 456.7L776.9 450.8L777.8 446.4L778.7 444.7L779.8 440.7L780.8 434.7L781.9 426.0L782.8 429.5L783.6 430.3L784.5 434.0L785.6 430.9L786.7 430.0L787.8 436.1L788.8 444.7L789.7 447.2L790.6 448.4L791.5 452.7L792.6 456.8L793.6 460.2L794.7 466.0L795.6 466.9L796.4 465.9L797.3 463.0L798.2 461.5L799.1 458.5L800.0 458.0L800.6 465.8L801.3 468.7L802.3 468.9L803.3 470.1L804.3 469.6L805.3 472.7L806.2 473.5L807.1 475.3L808.0 476.7L808.9 475.8L809.8 473.7L810.7 474.0L811.8 483.4L812.8 492.7L813.8 501.0L814.7 516.7L815.6 525.7L816.5 538.0L817.6 534.8L818.7 535.0L819.7 535.3L820.7 534.6L821.7 535.3L822.7 538.0L823.6 537.6L824.4 537.7L825.3 539.0L826.2 541.7L827.1 543.8L828.0 546.0L829.0 537.7L830.0 526.0L830.8 531.8L831.7 537.1L832.5 540.7L833.6 536.8L834.7 528.7L835.6 530.3L836.4 532.1L837.3 535.0L838.4 544.7L839.5 548.7L840.4 561.6L841.3 580.7L842.2 599.9L843.2 615.0L844.2 629.6L845.3 642.0L846.4 631.2L847.5 626.0L848.6 625.2L849.6 623.2L850.7 619.0L851.6 623.7L852.4 628.3L853.3 631.0L854.2 637.4L855.1 638.0L856.0 644.7L857.0 637.2L858.0 629.4L859.0 624.5L860.0 614.0L860.9 620.7L861.8 625.7L862.7 628.7L863.4 634.3L864.0 639.0L864.9 633.9L865.8 624.4L866.7 615.0L867.6 610.6L868.4 602.0L869.3 598.0L870.2 598.4L871.1 601.5L872.0 606.0L873.0 613.6L874.0 623.0L875.0 604.5L876.0 592.7L876.9 597.5L877.8 599.2L878.7 602.0L879.6 600.8L880.4 599.0L881.3 596.7L882.2 598.2L883.1 598.2L884.0 599.0L885.2 591.8L886.3 592.0L887.5 586.0L888.3 589.4L889.2 590.5L890.0 592.7L890.9 601.4L891.9 610.8L892.8 618.0L893.9 615.2L894.9 617.0L896.0 615.0L896.9 618.8L897.8 623.0L898.7 631.0L899.6 631.3L900.4 634.6L901.3 635.0L902.2 633.6L903.1 635.2L904.0 634.0L904.9 637.8L905.8 637.3L906.7 639.0L907.6 633.2L908.5 628.7L909.6 620.6L910.7 612.7L911.6 624.6L912.5 634.0L913.4 636.5L914.3 637.2L915.2 638.0L916.2 643.2L917.3 647.0L918.4 645.1L919.4 645.0L920.5 646.0L921.4 643.6L922.3 644.4L923.2 642.0L924.1 642.1L925.0 644.1L925.9 644.7L926.8 638.5L927.6 635.2L928.5 634.0L929.4 635.5L930.3 640.2L931.2 642.0L932.1 644.5L933.0 646.1L933.9 647.0L934.8 644.8L935.6 644.4L936.5 643.0L937.4 643.9L938.3 644.9L939.2 646.0L940.4 643.0L941.5 645.0L942.7 642.0L943.6 634.3L944.5 630.0L945.4 631.0L946.3 629.8L947.2 627.0L948.2 626.5L949.3 630.0L950.2 626.7L951.1 625.4L952.0 620.7L953.0 625.4L954.0 626.0L954.8 648.0L955.5 671.0L956.6 671.9L957.6 673.5L958.7 676.7L959.6 678.8L960.4 676.5L961.3 678.0L962.2 679.7L963.1 679.1L964.0 682.0L965.0 685.5L965.9 688.7L966.8 688.6L967.6 682.5L968.5 682.0L969.7 680.9L970.8 676.7L972.0 674.0L973.2 675.8L974.3 675.4L975.5 675.0L976.6 673.2L977.6 675.0L978.7 672.7L979.8 670.0L980.9 665.0L982.0 664.7L982.8 666.5L983.7 674.2L984.5 679.0L985.7 678.0L986.8 676.7L988.0 676.7L988.9 675.4L989.8 676.1L990.7 676.7L991.7 676.9L992.7 680.1L993.7 677.6L994.7 680.7L995.7 680.8L996.7 680.1L997.7 676.1L998.7 676.7L999.4 676.8L1000.0 673.3L1001.1 672.5L1002.1 671.6L1003.2 668.0L1004.2 645.2L1005.3 626.7L1006.4 624.8L1007.4 623.6L1008.5 622.7L1009.6 616.1L1010.7 602.7L1011.7 602.6L1012.7 601.3L1013.7 601.1L1014.7 601.0L1015.6 599.8L1016.4 598.6L1017.3 600.0L1018.2 596.5L1019.1 598.0L1020.0 594.7L1021.2 595.8L1022.3 600.9L1023.5 601.0L1024.3 604.1L1025.2 608.8L1026.0 614.7L1026.9 615.2L1027.9 614.4L1028.8 616.0L1029.7 605.2L1030.6 600.2L1031.5 586.7L1032.6 587.6L1033.6 586.8L1034.7 585.0L1035.6 589.4L1036.4 594.5L1037.3 596.0L1038.2 598.7L1039.1 598.0L1040.0 598.7L1041.0 598.2L1042.0 596.0L1043.0 599.9L1044.0 609.0L1044.9 610.9L1045.8 610.8L1046.7 612.0L1047.6 625.9L1048.5 636.0L1049.6 612.2L1050.7 585.0L1051.8 583.0L1052.8 582.7L1053.8 565.8L1054.7 556.0L1055.6 556.7L1056.4 552.5L1057.3 553.0L1058.2 553.9L1059.1 554.4L1060.0 556.0L1060.9 553.3L1061.8 553.5L1062.7 550.7L1063.6 552.0L1064.4 548.6L1065.3 549.0L1066.2 551.6L1067.1 551.9L1068.0 554.7L1068.9 553.6L1069.8 551.6L1070.7 550.7L1071.6 541.9L1072.5 537.0L1073.6 533.0L1074.7 532.0L1075.6 532.1L1076.4 536.4L1077.3 536.0L1078.2 539.0L1079.1 540.6L1080.0 545.0L1081.0 554.2L1082.0 558.7L1082.9 557.0L1083.9 549.3L1084.8 545.0L1085.7 542.8L1086.6 542.2L1087.5 542.7L1088.6 541.2L1089.6 542.1L1090.7 542.7L1091.6 543.4L1092.4 546.8L1093.3 550.7L1094.4 556.0L1095.5 564.0L1096.3 563.3L1097.2 563.6L1098.0 561.0L1098.9 563.0L1099.9 562.6L1100.8 564.0L1101.9 564.0L1102.9 564.8L1104.0 565.0L1104.9 566.3L1105.8 568.1L1106.7 570.7L1107.6 562.7L1108.4 558.7L1109.3 554.7L1110.2 560.2L1111.1 559.0L1112.0 564.0L1112.9 563.6L1113.8 563.6L1114.7 562.7L1115.6 566.1L1116.4 565.0L1117.3 568.0L1118.2 568.4L1119.1 569.6L1120.0 572.0L1121.0 575.5L1122.0 580.0L1123.0 573.7L1124.0 568.0L1125.0 562.2L1125.9 550.7L1127.0 544.8L1128.0 534.7L1129.0 535.7L1130.0 532.0L1131.0 531.6L1132.0 533.0L1132.9 534.4L1133.8 535.7L1134.7 534.7L1135.6 532.7L1136.4 531.3L1137.3 529.0L1138.2 529.0L1139.1 533.2L1140.0 536.0L1140.9 537.2L1141.8 536.4L1142.7 534.7L1143.6 534.9L1144.4 534.0L1145.3 530.7L1146.2 531.6L1147.1 533.1L1148.0 537.0L1148.9 536.6L1149.8 539.1L1150.7 540.0L1151.6 542.1L1152.4 544.5L1153.3 544.0L1154.2 544.8L1155.1 544.5L1156.0 544.0L1156.9 545.3L1157.8 544.5L1158.7 545.0L1159.7 545.2L1160.7 543.3L1161.7 546.0L1162.7 545.0L1163.6 542.2L1164.4 543.5L1165.3 540.0L1166.3 541.3L1167.3 540.6L1168.3 540.5L1169.3 542.7L1170.2 550.2L1171.2 561.0L1172.2 567.2L1173.3 572.0L1174.3 572.4L1175.3 569.9L1176.3 569.4L1177.3 570.7L1178.2 570.8L1179.1 571.0L1180.0 570.7L1180.7 565.3L1181.3 561.0L1182.0 565.0L1182.7 572.0L1183.7 573.1L1184.7 571.4L1185.7 573.2L1186.7 574.7L1187.8 574.6L1188.8 576.4L1189.9 574.7L1190.8 573.5L1191.6 572.6L1192.5 569.0L1193.4 568.1L1194.3 566.4L1195.2 566.7L1196.2 563.6L1197.3 562.7L1198.2 566.5L1199.1 567.1L1200.0 568.0L1201.0 568.6L1202.0 570.7L1202.9 565.7L1203.9 565.4L1204.8 562.7L1205.7 561.3L1206.6 557.9L1207.5 556.0L1208.3 556.6L1209.2 560.1L1210.0 561.0L1211.0 560.4L1212.0 556.0L1212.9 557.6L1213.8 559.7L1214.7 565.0L1215.6 562.2L1216.4 560.4L1217.3 558.7L1218.2 552.9L1219.2 545.0L1220.2 539.5L1221.3 537.0L1222.4 524.9L1223.5 508.0L1224.6 508.0L1225.6 506.0L1226.7 505.0L1227.6 503.1L1228.4 505.3L1229.3 502.7L1230.3 501.5L1231.3 503.1L1232.3 500.4L1233.3 501.0L1234.2 495.1L1235.1 493.8L1236.0 488.0L1236.9 488.5L1237.8 492.6L1238.7 492.0L1239.7 490.7L1240.7 488.0L1241.7 486.8L1242.7 486.7L1243.6 486.8L1244.4 488.2L1245.3 488.0L1246.3 488.7L1247.3 483.8L1248.3 483.6L1249.3 482.7L1250.2 480.1L1251.1 482.0L1252.0 478.7L1253.0 471.4L1253.9 468.0L1255.0 452.7L1256.0 444.0L1256.9 443.1L1257.8 445.4L1258.7 446.7L1259.6 452.2L1260.4 455.6L1261.3 457.0L1262.2 457.2L1263.1 457.4L1264.0 454.7L1264.9 454.5L1265.8 449.4L1266.7 448.0L1267.6 446.4L1268.4 448.8L1269.3 446.7L1270.2 449.9L1271.1 448.7L1272.0 453.0L1272.9 454.2L1273.8 453.7L1274.7 454.7L1275.6 449.0L1276.4 443.9L1277.3 440.0L1278.0 442.8L1278.7 449.0L1279.3 444.7L1280.0 444.7L1280.9 439.5L1281.8 435.9L1282.7 432.7L1283.8 436.6L1284.8 436.7L1285.8 441.6L1286.7 451.0L1287.6 453.9L1288.4 451.8L1289.3 454.0L1290.2 455.6L1291.1 460.0L1292.0 460.7L1293.0 467.5L1293.9 471.0L1294.8 466.3L1295.6 459.8L1296.5 458.0L1297.6 453.9L1298.7 450.0L1299.6 449.9L1300.4 452.2L1301.3 451.0L1302.2 449.9L1303.1 450.5L1304.0 451.0L1305.0 443.7L1306.0 431.0L1306.9 424.0L1307.9 421.8L1308.8 418.0L1309.8 413.7L1310.7 406.0L1311.6 406.6L1312.4 403.4L1313.3 404.7L1314.3 403.7L1315.3 404.8L1316.3 409.5L1317.3 408.7L1318.4 398.3L1319.5 391.0L1320.4 378.5L1321.3 362.0L1322.2 363.4L1323.1 361.4L1324.0 362.0L1324.7 354.0L1325.3 348.7L1326.2 348.3L1327.1 343.9L1328.0 340.7L1329.1 333.3L1330.1 330.3L1331.2 323.0L1332.2 326.9L1333.3 332.7L1334.4 336.2L1335.5 342.0L1336.4 345.7L1337.3 355.0L1338.2 354.8L1339.1 354.1L1340.0 351.0L1341.0 343.3L1341.9 334.0L1342.8 334.8L1343.6 330.1L1344.5 331.0L1345.6 331.9L1346.7 335.0L1347.6 341.7L1348.5 348.7L1349.6 343.5L1350.7 332.7L1351.6 334.3L1352.4 332.3L1353.3 332.7L1354.2 338.1L1355.1 346.4L1356.0 354.0L1356.9 356.2L1357.8 360.5L1358.7 360.7L1359.6 354.9L1360.4 354.4L1361.3 348.7L1362.2 348.3L1363.2 346.0L1364.2 352.1L1365.3 355.0L1366.4 358.2L1367.5 359.0L1368.4 369.2L1369.3 378.0L1370.2 369.7L1371.1 362.5L1372.0 356.7L1373.0 355.3L1373.9 355.0L1375.0 361.3L1376.0 364.7L1377.0 363.2L1378.0 364.7L1379.0 358.3L1380.0 355.0L1380.9 352.4L1381.8 345.6L1382.7 343.0L1383.6 335.6L1384.5 332.7L1385.4 332.4L1386.3 336.5L1387.2 338.0L1388.1 337.7L1389.0 340.5L1389.9 339.0L1390.8 341.1L1391.6 342.0L1392.5 340.7L1393.7 335.9L1394.8 331.4L1396.0 330.0L1396.9 329.3L1397.8 331.8L1398.7 332.7L1399.6 335.8L1400.4 336.7L1401.3 339.0L1402.2 340.1L1403.1 343.3L1404.0 346.0L1404.9 347.4L1405.8 348.5L1406.7 348.7L1407.6 351.9L1408.4 354.5L1409.3 355.0L1410.2 359.1L1411.1 359.5L1412.0 364.7L1412.9 366.4L1413.8 364.8L1414.7 366.0L1415.6 363.6L1416.5 360.7L1417.6 372.9L1418.7 387.0L1419.6 386.7L1420.4 383.1L1421.3 383.0L1422.2 380.2L1423.1 378.5L1424.0 378.0L1425.0 367.1L1426.0 360.7L1427.0 356.8L1428.0 348.7L1428.9 348.1L1429.8 346.2L1430.7 346.0L1431.6 342.9L1432.5 340.7L1433.6 347.1L1434.7 348.7L1435.8 343.9L1436.8 339.0L1437.8 339.4L1438.7 342.0L1439.8 352.4L1440.8 359.0L1442.0 380.0L1443.2 398.0L1444.1 392.3L1445.0 375.2L1445.9 368.7L1446.8 368.6L1447.6 369.8L1448.5 368.7L1449.6 373.4L1450.7 375.0L1451.6 375.4L1452.4 370.4L1453.3 371.0L1454.2 365.5L1455.1 360.2L1456.0 358.0L1457.0 354.7L1458.0 354.0L1458.9 362.7L1459.9 365.9L1460.8 371.0L1461.7 374.2L1462.6 373.1L1463.5 375.0L1464.3 377.5L1465.2 376.8L1466.0 378.0L1466.9 381.9L1467.9 390.4L1468.8 394.0L1469.7 392.1L1470.6 382.9L1471.5 380.7L1472.3 378.5L1473.2 376.0L1474.0 372.7L1475.0 372.7L1476.0 375.0L1477.0 366.2L1477.9 359.0L1478.8 356.8L1479.6 356.3L1480.5 356.7L1481.7 352.8L1482.8 351.9L1484.0 348.7L1484.9 354.0L1485.8 355.9L1486.7 362.0L1487.6 362.0L1488.4 365.7L1489.3 368.7L1490.2 366.9L1491.1 361.8L1492.0 360.7L1492.9 360.7L1493.8 361.1L1494.7 363.0L1495.6 359.2L1496.4 352.0L1497.3 346.0L1498.2 341.6L1499.1 339.5L1500.0 339.0L1500.9 339.6L1501.8 341.2L1502.7 342.0L1503.8 342.1L1504.9 339.6L1506.0 340.7L1506.9 333.8L1507.9 332.1L1508.8 326.0L1509.8 330.0L1510.7 335.0L1511.8 335.0L1512.8 336.7L1513.8 325.4L1514.7 316.7L1515.8 310.3L1516.8 298.0L1517.8 286.7L1518.7 278.0L1519.6 275.7L1520.4 272.0L1521.3 270.0L1522.2 267.3L1523.1 267.1L1524.0 263.0L1525.0 259.3L1525.9 250.0L1526.8 250.4L1527.6 250.6L1528.5 252.7L1529.6 256.4L1530.7 258.0L1531.8 255.8L1532.8 254.0L1533.9 255.0L1535.0 252.5L1536.0 246.0L1536.9 247.0L1537.8 250.0L1538.7 250.0L1539.6 248.3L1540.4 249.0L1541.3 246.0L1542.2 244.5L1543.1 241.9L1544.0 242.0L1545.0 234.9L1545.9 232.7L1547.0 240.2L1548.0 247.0L1549.0 253.3L1549.9 258.0L1551.0 257.2L1552.0 252.7L1553.0 254.0L1554.0 259.0L1555.0 262.4L1556.0 264.7L1556.9 260.8L1557.8 258.3L1558.7 255.0L1559.3 249.4L1560.0 247.3L1561.0 247.2L1562.0 248.7L1563.2 264.7L1564.1 263.9L1565.0 264.6L1565.9 262.0L1567.0 253.1L1568.0 248.7L1569.0 243.3L1570.0 238.0L1571.1 238.3L1572.2 238.1L1573.3 235.3L1574.2 234.6L1575.1 234.8L1576.0 236.7L1576.9 237.9L1577.8 237.6L1578.7 235.3L1579.8 236.6L1580.8 238.0L1581.8 242.7L1582.7 252.7L1583.6 255.3L1584.4 254.0L1585.3 255.3L1586.2 256.4L1587.1 254.9L1588.0 254.0L1588.9 256.2L1589.8 254.4L1590.7 256.7L1591.6 257.3L1592.4 254.7L1593.3 255.3L1594.2 254.0L1595.1 255.0L1596.0 252.7L1596.9 256.4L1597.8 255.6L1598.7 259.3L1599.6 266.8L1600.5 278.0L1601.2 285.4L1602.0 294.0L1603.0 283.5L1604.0 272.7L1605.0 272.3L1605.9 272.7L1606.7 277.2L1607.5 286.0L1608.3 288.6L1609.2 295.2L1610.0 298.0L1610.9 297.3L1611.9 290.4L1612.8 290.0L1613.7 289.8L1614.6 290.1L1615.5 288.7L1616.3 285.9L1617.2 288.3L1618.0 286.0L1619.0 281.6L1620.0 280.7L1620.9 281.1L1621.8 280.9L1622.7 280.7L1623.6 286.0L1624.5 290.0L1625.4 288.8L1626.3 288.8L1627.2 288.7L1628.1 290.8L1629.0 291.9L1629.9 294.0L1631.0 300.9L1632.0 306.0L1633.0 300.4L1634.0 295.3L1634.9 292.8L1635.9 288.7L1636.8 288.7L1637.9 289.1L1638.9 288.7L1640.0 288.7L1641.0 279.1L1642.0 272.7L1643.0 268.8L1644.0 262.0L1644.9 262.6L1645.8 261.0L1646.7 260.7L1647.6 258.0L1648.4 257.9L1649.3 256.7L1650.2 256.0L1651.1 256.9L1652.0 259.3L1652.9 255.4L1653.8 250.1L1654.7 248.7L1655.6 243.7L1656.5 239.3L1657.7 238.9L1658.8 236.7L1660.0 238.0L1660.9 237.2L1661.8 233.6L1662.7 234.0L1663.6 231.7L1664.4 228.3L1665.3 223.3L1666.2 223.8L1667.1 222.5L1668.0 224.7L1668.9 226.0L1669.8 226.8L1670.7 228.7L1671.6 233.0L1672.4 231.4L1673.3 235.3L1674.5 237.1L1675.6 238.1L1676.8 236.7L1677.9 234.4L1678.9 231.2L1680.0 226.0L1681.0 227.9L1682.0 232.7L1682.9 235.5L1683.9 234.4L1684.8 235.3L1685.7 236.9L1686.6 236.8L1687.5 235.3L1688.4 238.3L1689.3 244.7L1690.2 241.5L1691.1 237.5L1692.0 230.0L1692.9 228.4L1693.8 229.5L1694.7 230.0L1695.6 229.8L1696.4 225.9L1697.3 226.0L1698.2 227.9L1699.1 226.0L1700.0 227.3L1700.9 225.4L1701.8 218.3L1702.7 216.7L1703.6 212.2L1704.4 210.2L1705.3 203.3L1706.2 203.4L1707.1 205.0L1708.0 207.3L1708.9 206.9L1709.8 205.7L1710.7 206.0L1711.6 204.7L1712.4 205.7L1713.3 207.3L1714.2 205.6L1715.1 208.1L1716.0 206.0L1716.9 207.1L1717.8 208.4L1718.7 207.3L1719.6 208.7L1720.4 215.0L1721.3 216.7L1722.2 213.7L1723.1 214.2L1724.0 212.7L1724.9 211.1L1725.8 207.6L1726.7 206.0L1727.6 206.2L1728.4 203.6L1729.3 202.0L1730.2 204.1L1731.1 207.2L1732.0 207.3L1732.9 207.3L1733.8 213.1L1734.7 212.7L1735.6 213.6L1736.4 213.2L1737.3 214.0L1738.2 218.6L1739.1 219.0L1740.0 223.3L1740.9 226.7L1741.8 226.3L1742.7 227.3L1743.6 224.9L1744.4 224.9L1745.3 222.0L1746.2 221.8L1747.1 220.8L1748.0 222.0L1748.9 220.9L1749.8 215.4L1750.7 215.3L1751.6 215.7L1752.4 212.6L1753.3 212.7L1754.5 212.0L1755.6 212.1L1756.8 208.7L1757.7 210.8L1758.6 213.0L1759.5 214.0L1760.3 215.8L1761.2 216.9L1762.0 222.0L1762.9 221.0L1763.9 222.4L1764.8 224.7L1765.8 218.7L1766.7 211.3L1767.6 206.5L1768.4 202.5L1769.3 198.0L1770.2 197.7L1771.2 194.0L1772.1 194.5L1773.0 197.2L1773.9 200.7L1775.0 210.3L1776.0 218.0L1776.9 219.4L1777.8 223.3L1778.7 230.0L1779.8 228.5L1780.8 226.6L1781.9 227.3L1782.8 224.4L1783.6 221.6L1784.5 220.7L1785.6 217.1L1786.7 212.7L1787.6 215.3L1788.4 215.7L1789.3 219.3L1790.2 223.5L1791.1 226.3L1792.0 230.0L1792.9 232.0L1793.8 240.4L1794.7 242.0L1795.6 238.6L1796.4 235.9L1797.3 235.3L1798.4 236.2L1799.5 240.7L1800.3 246.9L1801.2 253.7L1802.0 256.7L1802.9 261.7L1803.9 263.2L1804.8 267.3L1805.8 275.7L1806.7 287.3L1807.6 279.0L1808.4 277.5L1809.3 271.3L1810.2 272.0L1811.1 271.7L1812.0 272.7L1813.0 270.6L1813.9 267.3L1815.0 266.4L1816.0 266.0L1817.0 271.4L1818.0 272.7L1819.0 271.7L1820.0 268.7L1820.9 268.2L1821.8 271.1L1822.7 270.0L1823.8 271.1L1824.9 277.3L1826.0 280.7L1827.1 278.5L1828.2 275.9L1829.3 275.3L1830.2 274.8L1831.1 279.1L1832.0 279.3L1832.9 277.0L1833.8 278.6L1834.7 278.0L1835.6 279.6L1836.4 276.7L1837.3 278.0L1838.2 272.8L1839.1 271.4L1840.0 267.3L1841.0 266.0L1841.9 264.7L1843.0 268.7L1844.0 271.3L1844.9 271.3L1845.8 267.3L1846.7 267.3L1847.6 261.0L1848.5 256.7L1849.6 257.2L1850.7 259.3L1851.6 261.2L1852.4 270.5L1853.3 272.7L1854.0 275.1L1854.7 275.3" fill="none" stroke="#111" stroke-width="2.5" stroke-linejoin="round" stroke-linecap="round"/></g><line x1="160" x2="160" y1="156" y2="1025.5" stroke="#7b788a" stroke-width="2.4"/><line x1="1864.9" x2="1864.9" y1="156" y2="1025.5" stroke="#7b788a" stroke-width="2.5"/><text x="84.27" y="254.72494318008154" font-size="26.6" font-weight="normal" fill="#111" textLength="57.19" lengthAdjust="spacingAndGlyphs" >100K</text><text x="95.59" y="308.5875284099593" font-size="26.6" font-weight="normal" fill="#111" textLength="45.88" lengthAdjust="spacingAndGlyphs" >80K</text><text x="95.18" y="378.02847821685236" font-size="26.6" font-weight="normal" fill="#111" textLength="46.30" lengthAdjust="spacingAndGlyphs" >60K</text><text x="96.00" y="475.9000000000001" font-size="26.6" font-weight="normal" fill="#111" textLength="45.47" lengthAdjust="spacingAndGlyphs" >40K</text><text x="95.18" y="643.2124715900409" font-size="26.6" font-weight="normal" fill="#111" textLength="46.30" lengthAdjust="spacingAndGlyphs" >20K</text><text x="99.01" y="810.5249431800816" font-size="26.6" font-weight="normal" fill="#111" textLength="42.45" lengthAdjust="spacingAndGlyphs" >10K</text><text x="110.61" y="864.3875284099593" font-size="26.6" font-weight="normal" fill="#111" textLength="30.86" lengthAdjust="spacingAndGlyphs" >8K</text><text x="110.20" y="933.8284782168524" font-size="26.6" font-weight="normal" fill="#111" textLength="31.27" lengthAdjust="spacingAndGlyphs" >6K</text><text x="111.01" y="1031.7" font-size="26.6" font-weight="normal" fill="#111" textLength="30.46" lengthAdjust="spacingAndGlyphs" >4K</text><text x="1884.22" y="1032.6000000000001" font-size="26.9" font-weight="normal" fill="#111" textLength="13.79" lengthAdjust="spacingAndGlyphs" >0</text><text x="1884.21" y="858.88" font-size="26.9" font-weight="normal" fill="#111" textLength="35.01" lengthAdjust="spacingAndGlyphs" >0.2</text><text x="1884.22" y="685.16" font-size="26.9" font-weight="normal" fill="#111" textLength="34.60" lengthAdjust="spacingAndGlyphs" >0.4</text><text x="1884.21" y="511.44" font-size="26.9" font-weight="normal" fill="#111" textLength="35.01" lengthAdjust="spacingAndGlyphs" >0.6</text><text x="1884.21" y="337.7200000000001" font-size="26.9" font-weight="normal" fill="#111" textLength="35.01" lengthAdjust="spacingAndGlyphs" >0.8</text><text x="1883.79" y="164.00000000000003" font-size="26.9" font-weight="normal" fill="#111" textLength="10.80" lengthAdjust="spacingAndGlyphs" >1</text><g transform="translate(67.5,590.5) rotate(-90)"><text x="-46.41" y="0" font-size="26.3" font-weight="normal" fill="#111" textLength="92.17" lengthAdjust="spacingAndGlyphs" >Price ($)</text></g><g transform="translate(1931.5,590) rotate(90)"><text x="-60.37" y="0" font-size="26.3" font-weight="normal" fill="#111" textLength="121.34" lengthAdjust="spacingAndGlyphs" >TrendPulse</text></g><text x="819.61" y="71" font-size="39.8" font-weight="bold" fill="#111" textLength="356.34" lengthAdjust="spacingAndGlyphs" >Bitcoin Trend Pulse</text><line x1="325" x2="355" y1="114.5" y2="114.5" stroke="#111" stroke-width="2.3"/><text x="360.61" y="120.9" font-size="25.9" font-weight="normal" fill="#111" textLength="181.32" lengthAdjust="spacingAndGlyphs" >BTC Price [USD]</text><circle cx="583.5" cy="109.75" r="12.3" fill="#767385"/><text x="605.52" y="120.9" font-size="25.9" font-weight="normal" fill="#6d6a7b" textLength="255.78" lengthAdjust="spacingAndGlyphs" >Short-Term Momentum</text><line x1="604.5" x2="863.8" y1="112.5" y2="112.5" stroke="#6d6a7b" stroke-width="1.5"/><path d="M886.2 114.5h10M904.5 114.5h10" stroke="#7a64f0" stroke-width="2.4"/><text x="922.57" y="120.9" font-size="25.9" font-weight="normal" fill="#111" textLength="188.31" lengthAdjust="spacingAndGlyphs" >Long-Term Trend</text><circle cx="1156.2" cy="109.75" r="12.4" fill="#aee3a0"/><text x="1177.57" y="120.9" font-size="25.9" font-weight="normal" fill="#111" textLength="109.63" lengthAdjust="spacingAndGlyphs" >Bull Mode</text><circle cx="1327.7" cy="109.75" r="12.3" fill="#767385"/><text x="1348.86" y="120.9" font-size="25.9" font-weight="normal" fill="#6d6a7b" textLength="149.15" lengthAdjust="spacingAndGlyphs" >Neutral Mode</text><line x1="1349" x2="1498.5" y1="112.5" y2="112.5" stroke="#6d6a7b" stroke-width="1.5"/><circle cx="1537.7" cy="109.75" r="12.3" fill="#f2a4c9"/><text x="1558.58" y="120.9" font-size="25.9" font-weight="normal" fill="#111" textLength="119.91" lengthAdjust="spacingAndGlyphs" >Bear Mode</text><text x="788.50" y="1093.5" font-size="20.5" font-weight="normal" fill="#6d6a7b" textLength="318.10" lengthAdjust="spacingAndGlyphs" >Get the full weekly market report at</text><text x="1112.87" y="1093.5" font-size="20.5" font-weight="normal" fill="#6d6a7b" textLength="215.64" lengthAdjust="spacingAndGlyphs" >https://adlerinsight.com</text><line x1="1113.5" x2="1327.8" y1="1095" y2="1095" stroke="#6d6a7b" stroke-width="1.3"/><text x="1700.32" y="1096.6" font-size="18.3" font-weight="normal" fill="#6d6a7b" textLength="251.24" lengthAdjust="spacingAndGlyphs" >© CryptoQuant. All rights reserved</text><defs><linearGradient id="og" x1="0" y1="0" x2="0" y2="1"><stop offset="0" stop-color="#ffb52e"/><stop offset="0.35" stop-color="#ffa00a"/><stop offset="1" stop-color="#ff8a00"/></linearGradient><linearGradient id="gg" x1="0" y1="0" x2="1" y2="0"><stop offset="0" stop-color="#7fd8ff"/><stop offset="0.45" stop-color="#43aaf7"/><stop offset="1" stop-color="#2f86e8"/></linearGradient></defs><path d="M711 1074.2L722.9 1086L711 1097.9L699.1 1086z" fill="url(#og)" stroke="#f4900c" stroke-width="0.8" stroke-linejoin="round"/><path d="M733.4 1076.4H746L751.2 1082.3L739.6 1096.4L728 1082.3z" fill="url(#gg)"/><path d="M728 1082.3L733.4 1076.4L736 1082.3z" fill="#b5f0ff"/><path d="M728 1082.3H736L739.6 1096.4z" fill="#8fe2ff"/><path d="M736 1082.3L739.7 1076.4L743.4 1082.3z" fill="#3a9af2"/><path d="M736 1082.3H743.4L739.6 1096.4z" fill="#5cc0fb"/><path d="M743.4 1082.3L746 1076.4L751.2 1082.3z" fill="#5bb4f8"/><path d="M743.4 1082.3H751.2L739.6 1096.4z" fill="#2f8cec"/><g><path d="M757.6 1098.4V1093.6C756.4 1092.4 756.2 1090.6 756.3 1088.4V1084.2C756.3 1083.2 757.6 1083.2 757.7 1084.2V1082.2C757.8 1081 759.3 1081 759.4 1082.2V1081.3C759.5 1080 761.1 1080 761.2 1081.3V1082C761.3 1080.9 762.8 1080.9 762.9 1082V1083.3C763 1082.3 764.4 1082.3 764.5 1083.4V1089.4C765.4 1088.6 766.4 1087.6 767.2 1087.4C768 1087.3 768.3 1088 767.8 1088.6C766.6 1089.8 765.6 1091.6 764.7 1093.2C764.3 1093.8 763.8 1094.1 763.6 1094.4V1098.4z" fill="#f7c03a"/><rect x="757.6" y="1095.6" width="6" height="2.8" fill="#eead2c"/></g><g transform="translate(1536.8 0) scale(-1 1)"><path d="M757.6 1098.4V1093.6C756.4 1092.4 756.2 1090.6 756.3 1088.4V1084.2C756.3 1083.2 757.6 1083.2 757.7 1084.2V1082.2C757.8 1081 759.3 1081 759.4 1082.2V1081.3C759.5 1080 761.1 1080 761.2 1081.3V1082C761.3 1080.9 762.8 1080.9 762.9 1082V1083.3C763 1082.3 764.4 1082.3 764.5 1083.4V1089.4C765.4 1088.6 766.4 1087.6 767.2 1087.4C768 1087.3 768.3 1088 767.8 1088.6C766.6 1089.8 765.6 1091.6 764.7 1093.2C764.3 1093.8 763.8 1094.1 763.6 1094.4V1098.4z" fill="#f7c03a"/><rect x="757.6" y="1095.6" width="6" height="2.8" fill="#eead2c"/></g><path d="M759.8 1077.6l2-2.2l0.8 2.8zM764.4 1075.2l2.3-0.3l-1 2.6zM769.7 1074.9l2.3 0.3l-1.3 2.3zM774.4 1075.4l2 2.2l-2.8 0.6z" fill="#8b8b90"/></svg>
</body></html>
